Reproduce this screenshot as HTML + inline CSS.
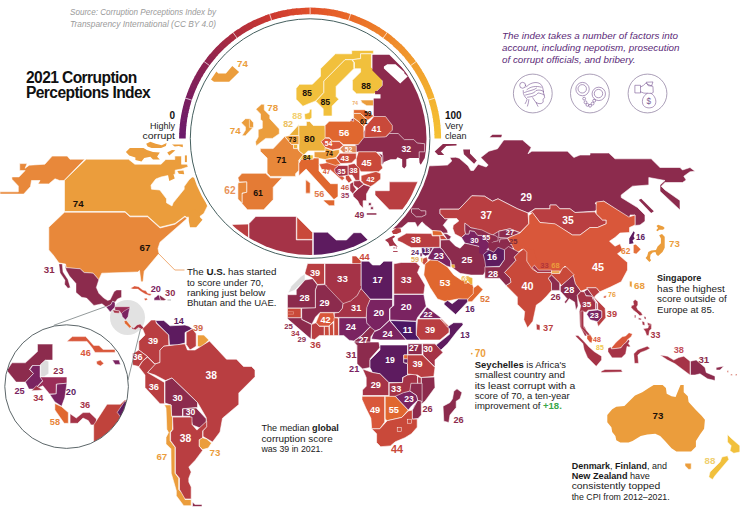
<!DOCTYPE html>
<html><head><meta charset="utf-8"><title>2021 Corruption Perceptions Index</title>
<style>
html,body{margin:0;padding:0;background:#fff;}
body{width:740px;height:523px;overflow:hidden;font-family:"Liberation Sans",sans-serif;}
svg{display:block;}
svg text{font-family:"Liberation Sans",sans-serif;}
</style></head><body>
<svg width="740" height="523" viewBox="0 0 740 523">
<defs>
<clipPath id="ceu"><circle cx="310.1" cy="138.6" r="116.4"/></clipPath>
<clipPath id="cin"><circle cx="66.6" cy="386.6" r="61.5"/></clipPath>
</defs>
<rect width="740" height="523" fill="#fff"/>
<g id="world">
<polygon points="86.2,159.2 128.5,159.2 134.8,164.2 161.0,164.2 165.8,159.5 174.8,159.5 174.8,156.0 181.5,156.0 181.5,164.2 187.0,164.2 188.2,166.8 181.5,169.0 175.2,170.2 175.2,174.2 166.5,175.8 161.0,177.0 155.8,179.0 151.0,185.2 151.5,189.2 159.8,190.0 166.5,198.8 166.5,202.8 172.0,206.0 173.2,202.8 184.2,189.2 184.2,186.5 189.0,179.8 192.2,177.0 200.0,178.5 207.5,206.0 203.8,213.5 198.8,217.2 186.2,217.2 185.0,216.0 175.0,223.5 160.0,227.2 147.5,216.0 130.0,216.0 125.0,211.5 64.5,211.5 64.5,180.2" fill="#eb9d3c" stroke="#fff" stroke-width="0.6"/>
<polygon points="64.5,212.2 125.0,212.2 130.0,216.8 147.5,216.8 160.0,228.0 175.0,224.2 185.0,216.8 187.0,218.5 160.0,242.2 158.0,248.5 159.0,253.5 147.5,267.2 144.2,271.2 143.0,281.8 141.0,281.8 139.5,270.5 137.8,272.0 101.8,273.2 98.8,279.8 93.0,273.2 84.2,272.5 80.0,268.8 66.2,267.8 65.5,264.0 59.0,263.0 53.2,255.0 48.8,250.0 48.8,227.2" fill="#e8883a" stroke="#fff" stroke-width="0.6"/>
<polygon points="52.2,156.1 67.2,156.1 69.9,159.2 84.8,159.2 64.0,180.5 59.7,180.5 55.0,178.8 48.8,183.9 38.0,183.9 40.0,180.5 31.5,180.5 30.5,186.6 23.7,194.1 0.0,194.1 0.0,191.8 18.3,191.8 18.3,186.0 11.9,179.2 11.9,176.9 19.0,176.9 25.1,170.6 19.7,170.6 19.7,163.6 27.1,163.6 25.1,168.3 29.2,165.2 44.8,164.2" fill="#e8883a" stroke="#fff" stroke-width="0.6"/>
<polygon points="188.8,213.5 193.8,208.5 198.8,212.2 200.0,217.2 202.5,219.8 196.2,227.2 190.0,227.2 188.8,221.0" fill="#eb9d3c"/>
<polygon points="125.9,152.0 129.9,147.9 143.5,147.9 146.9,149.9 153.0,152.0 159.8,152.6 157.1,156.7 159.8,159.4 153.0,159.4 150.3,156.7 144.2,158.1 141.5,161.5 135.4,160.1 135.4,157.4 129.2,155.4" fill="#eb9d3c"/>
<polygon points="146.2,143.8 150.3,141.8 155.7,143.8 161.8,145.2 166.6,143.1 165.9,145.9 161.1,147.9 151.6,147.9 147.6,146.5" fill="#eb9d3c"/>
<polygon points="167.2,152.6 172.0,149.9 175.4,150.2 169.3,155.4" fill="#eb9d3c"/>
<polygon points="172.0,144.5 182.8,144.5 182.8,147.2 178.8,145.9 174.7,146.5" fill="#eb9d3c"/>
<polygon points="184.9,155.4 186.9,155.4 186.9,162.1 184.9,162.1" fill="#eb9d3c"/>
<polygon points="167.9,174.3 173.3,173.7 174.7,178.4 169.3,181.1" fill="#eb9d3c"/>
<polygon points="177.4,171.0 183.5,170.5 184.2,174.3 178.8,173.7" fill="#eb9d3c"/>
<circle cx="127.5" cy="317.5" r="17.5" fill="#e2e2e2"/>
<polygon points="58.9,263.9 62.2,263.9 63.0,272.1 67.9,279.4 70.3,287.5 67.9,288.3 64.6,284.3 65.0,280.2 60.1,272.9" fill="#8c2b4d" stroke="#fff" stroke-width="0.4"/>
<polygon points="64.6,264.4 66.3,267.7 80.1,268.8 84.1,272.6 93.1,273.2 98.8,279.7 96.3,287.5 98.8,293.2 103.7,298.1 107.7,300.5 110.2,299.7 114.2,291.6 116.7,290.0 121.5,290.0 121.5,297.3 117.5,298.9 115.0,302.2 112.6,301.3 111.0,304.6 106.1,307.0 102.0,303.8 93.9,305.4 86.6,298.1 81.7,297.3 76.0,292.4 76.0,283.5 69.5,276.1 66.3,270.4" fill="#8c2b4d" stroke="#fff" stroke-width="0.4"/>
<polygon points="106.1,307.0 111.0,304.6 112.6,301.3 115.0,302.5 115.0,307.0 112.6,309.5 110.2,311.9" fill="#7a2361" stroke="#fff" stroke-width="0.4"/>
<polygon points="114.7,306.7 130.0,306.7 129.3,310.6 124.5,311.6 124.5,314.8 121.5,313.9 119.6,311.1 115.0,310.3" fill="#9a2d58" stroke="#fff" stroke-width="0.4"/>
<polygon points="112.6,310.0 115.0,310.3 119.6,311.1 119.1,313.2 114.2,312.9" fill="#a53347" stroke="#fff" stroke-width="0.4"/>
<polygon points="124.0,311.1 129.7,307.8 128.0,316.8 125.6,320.0 122.4,316.8 121.5,313.5" fill="#7a2361" stroke="#fff" stroke-width="0.4"/>
<polygon points="124.0,320.9 126.4,320.4 131.3,326.5 129.7,328.2 124.8,323.3" fill="#e0672f" stroke="#fff" stroke-width="0.4"/>
<polygon points="131.3,326.5 133.7,328.2 137.0,324.9 140.2,324.1 143.5,327.4 144.3,329.8 141.1,329.0 138.6,327.4 135.4,329.8 132.1,329.0" fill="#a53347" stroke="#fff" stroke-width="0.4"/>
<polygon points="130.5,288.3 134.6,285.9 138.6,286.7 142.7,290.0 145.9,290.8 147.6,293.2 151.6,294.0 150.0,295.7 145.1,294.0 141.1,291.6 137.8,289.1 132.9,289.1" fill="#d9573a" stroke="#fff" stroke-width="0.4"/>
<polygon points="144.0,298.6 146.7,298.1 147.6,299.7 145.1,300.5" fill="#d9573a" stroke="#fff" stroke-width="0.4"/>
<polygon points="154.1,298.1 156.5,296.5 158.1,294.8 159.3,295.7 160.6,300.2 154.1,300.2" fill="#7a2361" stroke="#fff" stroke-width="0.4"/>
<polygon points="159.3,295.7 160.6,295.7 163.8,298.1 166.3,299.7 163.8,300.5 160.6,300.2" fill="#8c2b4d" stroke="#fff" stroke-width="0.4"/>
<rect x="167.5" y="299" width="3.5" height="2" fill="#dcdcdc"/>
<polygon points="142.5,328.8 151.2,320.0 156.2,320.0 156.2,323.0 168.8,335.0 168.8,345.5 163.8,346.2 160.0,350.0 160.0,362.5 155.0,364.0 147.5,356.5 138.8,350.0 138.8,341.2 145.0,335.0" fill="#b93e41" stroke="#fff" stroke-width="0.6"/>
<polygon points="155.5,320.5 163.8,320.5 170.0,325.8 185.0,325.0 188.8,326.2 192.5,328.8 185.0,332.5 185.0,343.0 177.5,345.0 169.5,345.0 168.8,335.0 156.8,323.0" fill="#5d1b5f" stroke="#fff" stroke-width="0.6"/>
<polygon points="186.2,332.5 192.5,328.8 196.2,333.8 196.2,346.2 190.0,350.0 186.2,344.5" fill="#b93e41" stroke="#fff" stroke-width="0.6"/>
<polygon points="197.5,335.0 203.8,335.0 208.8,340.0 201.2,347.5 197.5,346.2" fill="#eb9d3c" stroke="#fff" stroke-width="0.6"/>
<polygon points="160.0,350.0 163.8,346.2 185.0,343.8 187.5,350.0 195.0,350.0 209.5,341.0 226.5,359.2 236.5,359.2 243.5,366.5 251.5,366.5 255.0,370.0 255.0,376.8 238.8,393.0 238.8,404.5 222.5,418.2 220.0,432.0 212.5,442.0 203.0,436.5 203.0,430.8 206.2,427.0 206.2,417.5 197.5,402.5 172.0,378.0 165.5,380.5 155.0,375.0 147.5,372.5 155.0,364.0 160.0,362.5" fill="#b93e41" stroke="#fff" stroke-width="0.6"/>
<polygon points="132.5,353.8 138.8,350.0 147.5,356.5 142.5,361.2 138.8,366.5 132.5,365.0" fill="#b93e41" stroke="#fff" stroke-width="0.6"/>
<polygon points="142.5,361.2 147.5,357.0 155.0,364.5 147.5,372.5 164.5,382.5 164.5,403.8 160.0,403.8 145.0,387.5 145.0,375.0 138.8,367.0" fill="#b93e41" stroke="#fff" stroke-width="0.6"/>
<polygon points="165.0,381.2 172.0,378.0 197.5,402.5 197.5,407.5 182.5,408.8 182.5,416.2 171.2,416.2 171.2,405.0 165.0,403.0" fill="#8c2b4d" stroke="#fff" stroke-width="0.6"/>
<polygon points="183.0,408.8 196.2,408.0 206.2,418.8 206.2,423.0 200.0,428.0 192.5,425.0 190.0,416.2 183.0,416.2" fill="#8c2b4d" stroke="#fff" stroke-width="0.6"/>
<polygon points="164.4,404.9 170.9,404.9 171.7,416.3 172.5,417.1 172.5,429.3 170.1,432.5 170.1,440.7 175.0,447.2 175.0,473.2 178.7,478.2 178.7,489.4 185.0,495.8 185.0,499.5 191.2,499.5 191.2,505.7 183.7,505.7 176.3,495.8 176.3,490.7 171.2,473.2 170.9,448.8 166.0,443.9 166.0,437.4 168.5,432.5 166.8,429.3 166.0,408.1" fill="#eb9d3c" stroke="#fff" stroke-width="0.6"/>
<polygon points="172.5,417.1 192.0,417.1 192.0,424.4 196.9,430.1 206.7,421.1 206.7,426.8 202.6,430.9 202.6,438.2 199.3,439.8 199.3,446.3 202.6,450.4 195.3,460.2 188.8,467.0 191.2,472.0 188.8,478.2 188.8,482.0 191.2,487.0 191.2,499.0 185.0,499.0 179.5,489.4 179.5,478.2 175.4,473.2 175.4,447.2 170.6,440.7 170.6,432.5 173.0,429.3" fill="#b93e41" stroke="#fff" stroke-width="0.6"/>
<polygon points="199.3,439.8 202.6,437.7 206.7,439.0 211.5,443.1 208.3,448.0 202.6,449.6 199.3,446.3" fill="#eb9d3c" stroke="#fff" stroke-width="0.6"/>
<polygon points="192.5,502.0 195.0,504.4 202.0,504.4 202.0,506.5 192.5,506.5" fill="#8c2b4d" stroke="#fff" stroke-width="0.6"/>
<text x="78.2" y="207.0" fill="#1a1008" font-size="9.72" font-weight="bold" text-anchor="middle">74</text>
<text x="145.0" y="251.2" fill="#1a1008" font-size="9.72" font-weight="bold" text-anchor="middle">67</text>
<text x="49.2" y="272.7" fill="#8c2b4d" font-size="9.72" font-weight="bold" text-anchor="middle">31</text>
<text x="155.8" y="292.1" fill="#7a2361" font-size="9.18" font-weight="bold" text-anchor="middle">20</text>
<text x="170.2" y="295.8" fill="#8c2b4d" font-size="9.18" font-weight="bold" text-anchor="middle">30</text>
<text x="178.8" y="323.8" fill="#5d1b5f" font-size="9.18" font-weight="bold" text-anchor="middle">14</text>
<text x="198.0" y="331.3" fill="#d06848" font-size="9.18" font-weight="bold" text-anchor="middle">39</text>
<text x="153.0" y="344.1" fill="#fff" font-size="9.18" font-weight="bold" text-anchor="middle">39</text>
<text x="137.5" y="360.1" fill="#fff" font-size="9.18" font-weight="bold" text-anchor="middle">36</text>
<text x="211.2" y="378.7" fill="#fff" font-size="10.26" font-weight="bold" text-anchor="middle">38</text>
<text x="153.8" y="389.6" fill="#fff" font-size="9.18" font-weight="bold" text-anchor="middle">36</text>
<text x="177.5" y="401.3" fill="#fff" font-size="9.18" font-weight="bold" text-anchor="middle">30</text>
<text x="190.5" y="415.1" fill="#fff" font-size="8.64" font-weight="bold" text-anchor="middle">30</text>
<text x="185.5" y="442.2" fill="#fff" font-size="10.26" font-weight="bold" text-anchor="middle">38</text>
<text x="161.8" y="459.5" fill="#eb9d3c" font-size="9.72" font-weight="bold" text-anchor="middle">67</text>
<text x="215.0" y="456.2" fill="#eb9d3c" font-size="9.72" font-weight="bold" text-anchor="middle">73</text>
<polygon points="305.0,272.5 307.5,263.5 324.5,263.5 324.5,284.0 317.5,284.5 312.5,278.0 305.0,274.2" fill="#b93e41" stroke="#fff" stroke-width="0.6"/>
<polygon points="291.2,286.2 301.2,276.2 305.0,273.8 305.0,280.0 295.0,290.0 288.0,293.0" fill="#dcdcdc" stroke="#fff" stroke-width="0.6"/>
<polygon points="325.0,263.5 352.0,263.5 352.0,256.5 353.8,256.0 361.2,263.5 361.2,289.0 356.8,290.0 355.0,299.2 343.8,304.0 325.0,284.5" fill="#a53347" stroke="#fff" stroke-width="0.6"/>
<polygon points="352.0,256.0 356.2,256.0 361.2,261.2 361.2,263.5 352.0,263.5" fill="#c9493a" stroke="#fff" stroke-width="0.6"/>
<polygon points="361.2,261.2 368.8,261.2 372.5,265.0 380.0,265.0 383.8,261.2 392.5,261.2 392.5,299.0 370.0,299.0 361.2,289.0" fill="#5d1b5f" stroke="#fff" stroke-width="0.6"/>
<polygon points="393.8,263.8 401.2,262.5 416.2,262.5 420.0,266.5 417.5,272.5 425.0,285.0 423.8,294.0 393.8,294.0" fill="#a53347" stroke="#fff" stroke-width="0.6"/>
<polygon points="370.0,299.5 392.5,299.5 392.5,306.2 389.5,308.8 389.5,320.0 380.0,329.0 373.8,331.5 366.2,322.5 366.2,307.5" fill="#7a2361" stroke="#fff" stroke-width="0.6"/>
<polygon points="393.8,294.5 423.8,294.5 426.2,306.2 417.5,317.5 416.2,321.2 390.0,320.0 390.0,308.8 393.8,305.5" fill="#7a2361" stroke="#fff" stroke-width="0.6"/>
<polygon points="419.5,317.0 427.0,307.0 442.0,318.5 419.5,318.5" fill="#7a2361" stroke="#fff" stroke-width="0.6"/>
<polygon points="417.5,319.0 442.0,319.0 449.0,326.2 449.0,332.5 440.0,340.0 420.0,340.0 416.2,335.0" fill="#b93e41" stroke="#fff" stroke-width="0.6"/>
<polygon points="390.0,320.5 416.2,321.5 416.2,335.0 420.0,340.0 406.2,340.0 398.8,331.2" fill="#4c1664" stroke="#fff" stroke-width="0.6"/>
<polygon points="373.8,332.0 380.0,329.2 389.5,320.5 398.8,331.2 406.2,340.0 380.0,340.0 371.2,339.0" fill="#7a2361" stroke="#fff" stroke-width="0.6"/>
<polygon points="447.5,326.8 453.6,322.7 462.4,322.7 463.1,324.8 457.0,331.6 447.5,343.8 439.3,351.6 435.5,356.0 432.6,356.0 436.0,345.1 449.5,334.3 449.5,328.8" fill="#5d1b5f" stroke="#fff" stroke-width="0.6"/>
<polygon points="440.0,318.7 448.2,325.5 447.5,327.1 442.1,321.0" fill="#c9493a" stroke="#fff" stroke-width="0.6"/>
<polygon points="320.7,285.9 361.1,285.9 360.3,290.0 357.3,295.4 350.6,300.9 343.1,303.6 324.8,290.0" fill="#a53347"/>
<polygon points="287.5,294.7 296.3,294.7 296.3,290.0 305.0,280.0 312.6,278.7 317.4,285.0 315.3,290.0 315.3,307.9 287.5,307.9" fill="#8c2b4d" stroke="#fff" stroke-width="0.5"/>
<polygon points="315.5,290.0 317.4,285.0 325.0,284.6 343.1,303.6 342.4,308.3 339.0,312.4 320.0,312.4 315.5,317.1 311.9,324.2 301.7,319.3 301.7,308.3 315.5,307.9" fill="#8c2b4d" stroke="#fff" stroke-width="0.5"/>
<polygon points="343.1,303.6 350.6,300.9 357.3,295.4 360.1,290.0 361.4,288.9 370.2,299.2 366.8,307.6 366.2,317.4 334.3,317.4 334.3,313.1 339.0,312.4 342.4,308.3" fill="#a53347" stroke="#fff" stroke-width="0.5"/>
<polygon points="320.0,312.8 333.6,312.8 334.3,317.4 337.7,317.8 332.2,322.6 328.8,326.0 319.3,326.0 316.0,322.6" fill="#d9573a" stroke="#fff" stroke-width="0.5"/>
<polygon points="287.5,308.3 301.0,308.3 301.0,317.8 287.5,317.8" fill="#c9493a" stroke="#fff" stroke-width="0.5"/>
<polygon points="287.5,317.8 301.7,317.8 301.7,319.6 311.5,324.6 310.9,339.1 287.5,318.8" fill="#8c2b4d" stroke="#fff" stroke-width="0.5"/>
<polygon points="311.5,324.6 316.0,322.8 319.3,326.4 324.1,326.4 324.1,335.5 319.3,335.5 314.6,339.5 311.5,338.8" fill="#b93e41" stroke="#fff" stroke-width="0.5"/>
<polygon points="324.5,326.4 328.8,326.4 329.1,335.5 324.5,335.5" fill="#c9493a" stroke="#fff" stroke-width="0.5"/>
<polygon points="329.5,325.5 333.2,322.6 333.6,335.5 329.5,335.5" fill="#c9493a" stroke="#fff" stroke-width="0.5"/>
<polygon points="334.0,317.8 338.3,318.2 338.6,335.5 334.0,335.5" fill="#c9493a" stroke="#fff" stroke-width="0.5"/>
<polygon points="339.0,317.8 366.2,317.8 366.8,323.2 370.2,326.6 361.4,335.5 353.9,340.9 349.2,340.2 343.8,335.5 339.0,335.5" fill="#7a2361" stroke="#fff" stroke-width="0.5"/>
<polygon points="353.9,341.3 361.4,335.9 370.2,326.9 375.0,330.7 370.9,336.8 370.2,344.5 357.3,345.0 357.3,343.6" fill="#8c2b4d" stroke="#fff" stroke-width="0.5"/>
<polygon points="356.7,345.6 366.8,345.0 366.8,353.8 364.8,353.8 364.8,361.9 357.3,361.9" fill="#a53347" stroke="#fff" stroke-width="0.5"/>
<polygon points="357.6,345.9 361.4,345.9 361.4,349.2 357.6,349.2" fill="#5d1b5f" stroke="#fff" stroke-width="0.5"/>
<path d="M287.5,311.7 h6 v2.5 h-6" stroke="#f0b0a0" stroke-width="0.5" fill="none"/>
<polygon points="353.8,342.0 378.8,342.0 380.0,347.5 370.0,358.8 370.0,367.5 362.5,369.0 357.0,363.8 357.0,345.5" fill="#8c2b4d" stroke="#fff" stroke-width="0.6"/>
<polygon points="380.0,345.0 407.5,345.0 407.5,355.0 403.8,355.0 403.8,362.5 407.5,363.8 407.5,375.0 402.5,377.5 402.5,382.5 388.8,382.5 380.0,373.8 372.5,372.5 370.0,367.5 370.0,360.0 380.0,350.0" fill="#5d1b5f" stroke="#fff" stroke-width="0.6"/>
<polygon points="362.5,369.0 372.5,372.5 380.0,373.8 388.8,382.5 388.8,395.5 362.5,395.5 362.5,390.0 366.2,386.2 366.2,377.5" fill="#a53347" stroke="#fff" stroke-width="0.6"/>
<polygon points="389.2,383.0 402.5,382.5 403.0,377.5 407.5,375.0 415.0,373.8 417.5,376.2 417.5,385.0 412.5,386.2 412.5,390.5 405.0,393.0 400.0,396.5 389.2,396.5" fill="#a53347" stroke="#fff" stroke-width="0.6"/>
<polygon points="407.5,355.0 422.5,355.0 435.0,367.5 433.8,376.5 421.2,377.5 417.5,375.0 407.5,374.0 407.5,363.8 403.8,362.5 403.8,355.0" fill="#b93e41" stroke="#fff" stroke-width="0.6"/>
<polygon points="422.5,343.8 435.0,343.8 443.0,352.5 435.0,360.0 435.0,367.0 423.0,355.0" fill="#a53347" stroke="#fff" stroke-width="0.6"/>
<polygon points="408.0,343.8 422.0,343.8 422.0,354.5 408.0,354.5" fill="#8c2b4d" stroke="#fff" stroke-width="0.6"/>
<polygon points="421.2,377.5 434.5,377.0 435.0,387.5 425.0,401.2 420.0,405.0 420.0,415.0 413.8,417.5 413.8,406.2 418.8,400.0 421.2,392.5" fill="#8c2b4d" stroke="#fff" stroke-width="0.6"/>
<polygon points="417.5,376.5 421.2,377.8 421.2,392.5 418.0,393.8" fill="#a53347" stroke="#fff" stroke-width="0.6"/>
<polygon points="453.8,391.2 457.0,388.8 462.0,392.5 460.0,398.8 456.2,401.2 456.2,407.5 450.0,415.0 448.8,422.5 443.8,421.2 443.0,406.2 450.0,402.5 452.5,398.8" fill="#8c2b4d" stroke="#fff" stroke-width="0.6"/>
<polygon points="362.0,396.3 384.7,396.3 384.7,422.0 379.8,428.8 371.7,428.8 370.9,418.2 366.0,408.5 362.0,399.5" fill="#d9573a" stroke="#fff" stroke-width="0.6"/>
<polygon points="385.2,396.3 395.3,396.3 408.3,410.1 401.8,417.4 387.2,420.7 385.2,419.0" fill="#e0672f" stroke="#fff" stroke-width="0.6"/>
<polygon points="371.7,428.8 379.8,428.8 387.2,420.7 401.8,417.4 408.3,410.9 412.4,410.1 412.4,419.0 417.2,419.0 417.2,427.2 411.5,433.7 405.0,437.7 395.3,441.8 390.4,445.9 380.7,446.7 376.6,442.6 376.6,433.7" fill="#c9493a" stroke="#fff" stroke-width="0.6"/>
<polygon points="410.9,383.3 422.1,383.3 422.1,402.0 417.7,400.3 416.4,395.4 409.9,391.1" fill="#8c2b4d" stroke="#fff" stroke-width="0.6"/>
<polygon points="395.3,396.3 403.4,392.7 409.9,391.1 416.4,395.4 417.7,400.3 411.5,406.0 408.3,410.1" fill="#7a2361" stroke="#fff" stroke-width="0.6"/>
<polygon points="412.4,410.1 417.7,400.3 421.3,401.1 421.3,415.0 418.0,418.5 412.4,419.0" fill="#8c2b4d" stroke="#fff" stroke-width="0.6"/>
<g stroke="#fff" stroke-width="0.5" fill="none"><rect x="397.2" y="427.3" width="4" height="4"/><rect x="407.5" y="419.2" width="4" height="4"/></g>
<polygon points="403.8,355.0 407.5,355.0 407.5,358.8 403.8,358.8" fill="#e0672f" stroke="#fff" stroke-width="0.4"/>
<polygon points="403.8,359.0 407.5,359.0 407.5,363.0 403.8,362.5" fill="#5d1b5f" stroke="#fff" stroke-width="0.4"/>
<text x="315.0" y="275.8" fill="#fff" font-size="9.18" font-weight="bold" text-anchor="middle">39</text>
<text x="342.5" y="282.2" fill="#fff" font-size="9.72" font-weight="bold" text-anchor="middle">33</text>
<text x="377.5" y="282.6" fill="#fff" font-size="9.18" font-weight="bold" text-anchor="middle">17</text>
<text x="406.2" y="282.7" fill="#fff" font-size="9.72" font-weight="bold" text-anchor="middle">33</text>
<text x="304.5" y="301.3" fill="#fff" font-size="9.18" font-weight="bold" text-anchor="middle">28</text>
<text x="324.5" y="305.8" fill="#fff" font-size="9.18" font-weight="bold" text-anchor="middle">29</text>
<text x="356.2" y="310.8" fill="#fff" font-size="9.18" font-weight="bold" text-anchor="middle">31</text>
<text x="378.8" y="315.5" fill="#fff" font-size="9.72" font-weight="bold" text-anchor="middle">20</text>
<text x="406.2" y="309.7" fill="#fff" font-size="9.72" font-weight="bold" text-anchor="middle">20</text>
<text x="428.0" y="316.7" fill="#fff" font-size="8.1" font-weight="bold" text-anchor="middle">22</text>
<text x="325.5" y="322.8" fill="#fff" font-size="9.18" font-weight="bold" text-anchor="middle">42</text>
<text x="350.8" y="330.1" fill="#fff" font-size="9.18" font-weight="bold" text-anchor="middle">24</text>
<text x="387.5" y="337.1" fill="#fff" font-size="9.18" font-weight="bold" text-anchor="middle">24</text>
<text x="407.5" y="332.8" fill="#fff" font-size="9.18" font-weight="bold" text-anchor="middle">11</text>
<text x="430.0" y="332.8" fill="#fff" font-size="9.18" font-weight="bold" text-anchor="middle">39</text>
<text x="363.5" y="342.9" fill="#fff" font-size="8.64" font-weight="bold" text-anchor="middle">27</text>
<text x="413.8" y="351.1" fill="#fff" font-size="8.64" font-weight="bold" text-anchor="middle">27</text>
<text x="428.0" y="351.6" fill="#fff" font-size="8.64" font-weight="bold" text-anchor="middle">30</text>
<text x="390.0" y="362.6" fill="#fff" font-size="8.64" font-weight="bold" text-anchor="middle">19</text>
<text x="417.5" y="367.1" fill="#fff" font-size="9.18" font-weight="bold" text-anchor="middle">39</text>
<text x="364.5" y="259.8" fill="#c9493a" font-size="9.18" font-weight="bold" text-anchor="middle">44</text>
<text x="288.5" y="329.3" fill="#8c2b4d" font-size="7.78" font-weight="bold" text-anchor="middle">25</text>
<text x="295.2" y="335.8" fill="#a53347" font-size="7.78" font-weight="bold" text-anchor="middle">34</text>
<text x="301.8" y="342.1" fill="#8c2b4d" font-size="7.78" font-weight="bold" text-anchor="middle">29</text>
<text x="315.5" y="348.2" fill="#b93e41" font-size="9.72" font-weight="bold" text-anchor="middle">36</text>
<text x="351.2" y="358.2" fill="#8c2b4d" font-size="9.72" font-weight="bold" text-anchor="middle">31</text>
<text x="465.0" y="338.0" fill="#5d1b5f" font-size="8.42" font-weight="bold" text-anchor="middle">13</text>
<text x="354.2" y="372.3" fill="#7a2361" font-size="9.18" font-weight="bold" text-anchor="middle">21</text>
<text x="375.8" y="387.8" fill="#fff" font-size="9.18" font-weight="bold" text-anchor="middle">29</text>
<text x="396.2" y="392.3" fill="#fff" font-size="9.18" font-weight="bold" text-anchor="middle">33</text>
<text x="409.0" y="402.1" fill="#fff" font-size="8.64" font-weight="bold" text-anchor="middle">23</text>
<text x="375.0" y="412.6" fill="#fff" font-size="9.18" font-weight="bold" text-anchor="middle">49</text>
<text x="393.8" y="412.6" fill="#fff" font-size="9.18" font-weight="bold" text-anchor="middle">55</text>
<text x="427.5" y="412.3" fill="#8c2b4d" font-size="9.18" font-weight="bold" text-anchor="middle">26</text>
<text x="458.5" y="423.1" fill="#8c2b4d" font-size="9.18" font-weight="bold" text-anchor="middle">26</text>
<text x="397.0" y="452.9" fill="#c9493a" font-size="10.8" font-weight="bold" text-anchor="middle">44</text>
<polygon points="464.4,222.5 518.0,227.4 519.7,233.9 513.2,238.8 513.2,248.5 485.5,246.9 464.4,233.9" fill="#8c2b4d"/>
<polygon points="385.0,147.5 385.0,165.8 432.0,165.8 447.5,165.0 451.8,161.0 449.8,157.5 455.8,157.2 459.2,158.2 468.0,165.8 470.8,170.5 473.5,170.5 478.2,164.2 486.2,167.0 488.2,165.0 480.8,157.5 488.8,151.2 497.5,148.8 503.8,140.0 522.5,140.0 531.2,147.5 528.0,153.8 531.8,151.2 567.5,151.2 573.8,157.5 573.8,157.5 580.0,155.0 590.0,155.0 590.0,153.0 608.8,153.0 615.0,158.8 651.2,158.8 660.0,167.5 680.0,167.5 682.5,170.0 690.0,167.5 695.0,171.2 690.0,171.8 683.8,176.2 686.2,180.0 682.5,182.5 665.0,182.5 661.2,186.2 665.0,190.0 680.0,200.5 680.0,210.0 660.0,191.2 660.0,185.0 665.0,180.5 648.8,177.5 648.8,185.0 632.5,186.2 621.2,195.0 621.2,197.5 637.5,207.5 645.0,215.0 645.0,221.2 640.0,225.0 635.0,225.5 635.0,215.0 630.0,215.0 630.0,220.0 617.5,210.5 603.8,201.2 595.0,203.0 598.8,207.5 595.0,211.2 575.0,212.5 570.0,208.8 560.0,208.8 556.2,205.0 550.0,205.0 550.0,208.8 535.0,208.8 528.0,213.0 517.5,208.8 498.0,198.8 492.5,201.2 484.5,196.2 471.8,195.8 459.0,209.2 440.0,209.2 440.0,213.5 444.8,218.8 448.5,218.5 443.2,225.2 447.2,230.0 448.0,233.0 443.2,233.2 441.0,231.2 432.2,230.5 425.5,225.2 422.0,221.8 417.5,227.2 415.2,222.5 408.0,222.5 401.8,227.8 385.0,230.0" fill="#8c2b4d" stroke="#fff" stroke-width="0.6"/>
<polygon points="434.7,151.5 442.9,144.0 456.5,144.0 456.5,145.6 446.3,146.0 440.9,151.5 444.2,155.1 438.1,155.1" fill="#8c2b4d"/>
<polygon points="463.2,149.4 470.0,149.4 470.0,153.5 476.8,160.5 474.1,163.7 463.9,154.2" fill="#8c2b4d"/>
<polygon points="489.7,137.2 492.4,134.8 501.9,134.8 501.2,137.2" fill="#8c2b4d"/>
<polygon points="638.8,200.0 641.2,198.8 653.8,211.2 651.2,213.0" fill="#8c2b4d"/>
<polygon points="440.0,209.2 459.0,209.2 471.8,195.8 484.5,196.2 492.5,201.2 498.0,198.8 517.5,208.8 528.0,213.0 528.8,223.8 520.0,232.5 510.0,228.8 498.8,231.2 492.5,235.0 483.8,232.5 475.0,228.5 471.0,228.0 464.9,223.2 464.9,230.0 465.5,234.0 461.5,237.5 454.8,234.0 452.8,228.5 453.2,225.2 458.8,221.0 456.8,218.5 448.5,218.5 444.8,218.8 440.0,213.5" fill="#b93e41" stroke="#fff" stroke-width="0.6"/>
<polygon points="411.5,208.8 419.0,208.8 421.0,210.8 425.8,210.8 425.8,214.8 421.5,216.8 416.2,216.8 411.5,212.5" fill="#8c2b4d" stroke="#fff" stroke-width="0.6"/>
<polygon points="529.5,213.0 535.0,208.8 550.0,208.8 550.0,205.0 556.2,205.0 560.0,208.8 570.0,208.8 575.0,212.5 595.0,211.8 596.2,213.8 602.5,220.0 606.2,220.0 606.2,223.8 597.5,227.5 590.0,227.5 580.0,235.0 572.5,235.0 555.0,224.2 540.0,222.5 532.5,213.0" fill="#b93e41" stroke="#fff" stroke-width="0.6"/>
<polygon points="397.7,238.3 406.5,233.3 431.4,233.6 432.3,236.0 439.8,236.0 439.8,247.3 411.3,247.6 407.2,245.5 402.5,242.8 397.7,240.8" fill="#b93e41" stroke="#fff" stroke-width="0.5"/>
<polygon points="432.3,230.6 441.1,231.3 443.2,235.4 432.7,235.4" fill="#e0672f" stroke="#fff" stroke-width="0.5"/>
<polygon points="439.8,235.6 443.2,235.4 447.2,239.4 440.5,239.7" fill="#c9493a" stroke="#fff" stroke-width="0.5"/>
<polygon points="443.2,233.3 447.2,234.0 451.3,236.7 449.3,239.4 447.2,239.4" fill="#8c2b4d" stroke="#fff" stroke-width="0.5"/>
<polygon points="461.5,237.4 465.6,234.0 468.9,234.0 469.6,230.6 474.4,231.3 477.8,235.4 481.8,235.4 491.6,243.8 489.3,247.8 483.2,251.9 479.1,246.5 471.0,244.6 464.9,243.1" fill="#7a2361" stroke="#fff" stroke-width="0.5"/>
<polygon points="464.9,223.1 471.0,227.9 475.1,228.6 481.8,229.9 490.0,234.0 495.0,235.4 498.1,237.4 498.1,240.8 493.4,241.9 490.0,244.2 481.8,235.4 477.8,235.4 474.4,231.3 469.6,230.6 468.9,234.0 465.6,234.0 464.9,229.9" fill="#8c2b4d" stroke="#fff" stroke-width="0.5"/>
<polygon points="421.5,247.8 433.0,247.8 428.9,254.6 425.5,256.0 422.1,253.9" fill="#5d1b5f" stroke="#fff" stroke-width="0.5"/>
<polygon points="433.7,247.8 439.8,247.6 442.5,249.6 450.6,261.1 450.6,267.2 446.6,265.9 439.8,261.8 431.6,260.5 427.6,258.4 429.6,254.6" fill="#7a2361" stroke="#fff" stroke-width="0.5"/>
<polygon points="440.5,240.1 449.3,239.7 455.4,245.9 460.1,248.2 464.9,243.2 471.0,244.6 479.1,246.5 482.5,250.5 487.5,255.2 487.5,268.2 483.2,275.0 471.0,275.0 460.1,273.3 452.0,267.6 450.9,261.1 442.5,249.6 440.5,247.6" fill="#8c2b4d" stroke="#fff" stroke-width="0.5"/>
<polygon points="422.8,258.4 426.9,257.1 427.8,260.9 424.2,265.2 422.1,262.5" fill="#c9493a" stroke="#fff" stroke-width="0.5"/>
<polygon points="420.1,253.0 422.1,253.0 422.1,256.5 420.1,256.5" fill="#7a2361" stroke="#fff" stroke-width="0.5"/>
<polygon points="420.8,257.7 422.7,257.7 422.7,262.2 421.1,262.2" fill="#eb9d3c" stroke="#fff" stroke-width="0.5"/>
<polygon points="498.8,231.2 510.0,228.8 520.0,233.0 507.5,238.0 498.8,237.5" fill="#8c2b4d" stroke="#fff" stroke-width="0.6"/>
<polygon points="500.0,239.0 507.5,238.5 511.2,244.0 504.5,247.0 499.0,244.5" fill="#8c2b4d" stroke="#fff" stroke-width="0.6"/>
<polygon points="425.0,263.8 430.0,260.0 437.5,260.5 447.5,267.0 453.8,275.0 461.2,280.0 472.5,284.2 475.0,292.5 467.5,300.0 457.5,299.0 445.0,301.5 437.5,299.0 430.0,287.5 423.8,275.0" fill="#e0672f" stroke="#fff" stroke-width="0.6"/>
<polygon points="528.8,215.5 532.5,212.5 540.0,222.5 555.0,223.8 572.5,235.0 580.0,235.0 590.0,227.5 597.5,227.5 606.2,223.8 606.2,220.0 602.5,220.0 596.2,213.8 596.2,202.0 603.8,201.2 628.8,217.0 635.0,215.0 635.0,225.0 629.5,227.5 629.5,232.5 620.0,233.0 615.0,237.5 609.5,241.2 615.0,246.2 620.0,243.8 622.5,250.0 617.5,253.8 627.5,262.5 627.5,270.0 621.2,281.8 610.5,287.0 599.8,291.8 596.2,287.8 586.8,287.8 587.5,288.8 580.8,291.2 575.2,283.8 573.2,275.0 565.0,266.0 560.0,271.8 550.0,271.8 536.2,270.0 532.5,266.2 522.5,248.8 516.2,253.8 511.2,244.0 507.5,238.0 520.0,233.0 528.8,223.8" fill="#d9573a" stroke="#fff" stroke-width="0.6"/>
<polygon points="536.2,323.8 540.0,325.0 540.0,330.2 536.5,329.8" fill="#b93e41" stroke="#fff" stroke-width="0.6"/>
<polygon points="451.2,264.5 454.5,264.5 455.0,268.0 451.8,267.5" fill="#ecb03a" stroke="#fff" stroke-width="0.3"/>
<polygon points="464.5,280.5 467.0,280.5 467.0,283.5 464.5,283.5" fill="#eb9d3c" stroke="#fff" stroke-width="0.3"/>
<polygon points="467.0,276.2 472.5,278.0 472.5,284.5 470.5,284.5 467.0,280.0" fill="#ecb03a" stroke="#fff" stroke-width="0.3"/>
<polygon points="521.5,248.1 533.7,249.8 540.2,271.2 532.0,270.1 526.8,261.1 525.5,252.2" fill="#d9573a"/>
<polygon points="488.1,242.4 510.1,242.4 510.1,247.3 504.4,250.4 497.9,248.1 493.8,253.0 488.9,250.4" fill="#8c2b4d"/>
<polygon points="479.2,245.7 488.9,250.4 483.3,255.3 479.2,253.0" fill="#7a2361"/>
<polygon points="519.0,252.2 523.6,248.9 526.8,252.2 526.8,261.1 532.0,268.9 537.7,272.5 551.5,272.5 551.5,273.3 559.7,273.3 562.9,267.6 566.2,266.8 574.3,275.0 561.3,285.5 559.7,283.1 551.5,275.0 548.3,278.2 551.5,283.1 551.5,290.4 546.7,296.1 541.0,301.8 536.3,305.0 532.8,321.3 527.5,327.8 523.9,319.7 524.7,311.5 517.4,304.2 517.4,296.9 506.0,285.5 510.9,282.3 510.1,278.2 504.4,272.5 515.8,260.3 514.1,257.1" fill="#c9493a" stroke="#fff" stroke-width="0.5"/>
<polygon points="532.0,267.6 534.5,265.2 538.5,270.1 551.5,270.1 551.5,272.5 537.7,272.5" fill="#a53347" stroke="#fff" stroke-width="0.5"/>
<polygon points="551.5,270.9 559.7,270.9 559.7,273.3 551.5,273.3" fill="#eb9d3c" stroke="#fff" stroke-width="0.5"/>
<polygon points="548.3,278.2 551.5,275.0 559.7,283.1 559.7,290.4 551.5,290.4 551.5,283.1" fill="#8c2b4d" stroke="#fff" stroke-width="0.5"/>
<polygon points="484.9,266.8 499.5,266.8 504.4,259.5 504.4,249.8 508.5,246.5 519.0,252.2 514.1,257.1 515.8,260.3 504.4,272.5 510.1,278.2 510.9,282.3 506.0,285.5 499.5,278.2 484.9,278.2" fill="#8c2b4d" stroke="#fff" stroke-width="0.5"/>
<polygon points="483.3,254.6 488.9,249.8 493.8,252.2 497.9,247.3 504.4,249.8 504.4,259.5 499.5,266.3 485.7,266.8 484.9,261.1" fill="#5d1b5f" stroke="#fff" stroke-width="0.5"/>
<polygon points="444.1,303.1 447.5,300.4 452.2,303.7 458.3,299.0 467.8,299.0 467.8,301.7 455.6,314.6 444.1,304.4" fill="#5d1b5f" stroke="#fff" stroke-width="0.6"/>
<polygon points="467.8,299.0 473.3,293.6 473.3,288.1 478.0,284.7 483.0,289.5 471.9,301.7 467.8,301.7" fill="#e0672f" stroke="#fff" stroke-width="0.6"/>
<polygon points="629.5,281.2 632.0,281.2 632.0,287.5 629.5,286.2" fill="#eb9d3c" stroke="#fff" stroke-width="0.5"/>
<polygon points="656.5,225.9 658.1,224.8 663.1,226.4 664.7,228.1 663.1,229.7 659.2,229.7 657.6,231.3 656.2,230.3 658.1,228.1" fill="#eb9d3c"/>
<polygon points="659.2,235.2 662.0,234.1 664.7,236.8 664.7,247.7 662.5,252.1 658.1,255.9 656.5,254.8 655.4,252.1 652.7,252.6 650.5,254.8 650.0,258.6 651.1,260.2 649.4,261.9 645.6,258.1 647.2,255.9 648.3,252.1 651.1,250.4 656.0,249.9 657.6,246.6 660.9,243.3 660.9,238.4" fill="#eb9d3c"/>
<polygon points="629.3,238.4 630.9,235.7 633.6,231.3 634.7,232.4 633.6,236.3 634.7,238.4 632.5,240.6 633.6,243.3 629.3,243.9 629.3,241.2" fill="#5d1b5f"/>
<polygon points="633.6,245.0 635.8,244.4 640.7,249.3 636.3,253.7 633.6,253.1" fill="#e4703a"/>
<polygon points="560.4,286.5 573.2,275.2 575.3,283.7 580.7,291.2 577.3,295.3 578.0,306.1 576.0,310.2 574.6,302.1 569.2,298.7 565.8,303.4 564.4,302.1 567.1,298.7 560.4,291.2" fill="#8c2b4d" stroke="#fff" stroke-width="0.5"/>
<polygon points="577.3,295.5 580.7,291.5 584.8,291.9 586.1,296.0 591.6,296.0 595.6,302.1 595.6,309.5 588.2,310.2 586.1,312.2 582.1,311.6 583.4,325.1 586.1,329.2 586.8,336.0 584.8,336.0 580.0,326.5 579.3,311.6 580.7,306.1 578.7,300.7" fill="#a53347" stroke="#fff" stroke-width="0.5"/>
<polygon points="584.1,291.5 587.5,289.2 593.6,297.3 592.2,298.7 597.0,303.4 597.0,309.5 595.9,309.5 595.9,302.1 591.6,296.0 586.1,295.5" fill="#8c2b4d" stroke="#fff" stroke-width="0.5"/>
<polygon points="586.8,287.8 596.3,287.8 599.7,291.9 595.6,295.5 594.3,297.3 605.1,308.2 605.8,317.7 598.3,326.5 597.0,322.4 601.7,317.0 601.7,310.9 597.7,309.5 597.7,303.1 593.6,297.3 587.8,289.2" fill="#b93e41" stroke="#fff" stroke-width="0.5"/>
<polygon points="586.8,314.3 588.8,310.9 597.7,309.9 601.7,311.3 601.7,317.0 597.7,321.7 590.2,319.7" fill="#7a2361" stroke="#fff" stroke-width="0.5"/>
<polygon points="603.8,296.0 606.5,295.5 605.8,298.0 603.5,298.0" fill="#d9573a" stroke="#fff" stroke-width="0.5"/>
<polygon points="633.1,301.5 635.1,299.5 637.8,301.5 637.8,304.9 636.5,307.0 637.8,309.7 641.2,312.4 642.6,315.1 639.9,315.8 637.2,313.1 633.8,310.4 631.1,307.6 631.7,305.6 633.8,304.9" fill="#a53347" stroke="#fff" stroke-width="0.4"/>
<polygon points="634.5,315.1 635.8,315.1 635.8,317.8 634.5,317.8" fill="#a53347" stroke="#fff" stroke-width="0.4"/>
<polygon points="638.5,317.8 641.2,318.5 641.2,320.1 638.5,319.6" fill="#a53347" stroke="#fff" stroke-width="0.4"/>
<polygon points="643.9,316.5 646.0,317.1 646.0,319.3 644.4,318.8" fill="#a53347" stroke="#fff" stroke-width="0.4"/>
<polygon points="641.9,321.2 644.4,321.9 644.9,325.3 642.6,325.0" fill="#a53347" stroke="#fff" stroke-width="0.4"/>
<polygon points="647.3,322.6 651.4,323.9 651.1,326.4 648.0,325.5" fill="#a53347" stroke="#fff" stroke-width="0.4"/>
<polygon points="643.3,328.7 648.0,328.0 648.7,325.3 651.4,324.6 651.4,328.7 649.4,330.7 648.7,335.5 646.7,335.5 645.3,331.4" fill="#a53347" stroke="#fff" stroke-width="0.4"/>
<polygon points="580.9,311.0 583.6,311.0 583.6,327.3 589.0,333.4 590.4,335.5 588.3,336.1 580.9,328.0" fill="#a53347" stroke="#fff" stroke-width="0.4"/>
<polygon points="587.0,335.5 590.4,334.8 592.4,338.2 591.7,342.9 589.7,342.2 587.0,338.8" fill="#d9573a" stroke="#fff" stroke-width="0.4"/>
<polygon points="575.4,335.5 578.1,335.5 583.6,340.9 589.0,347.0 594.4,351.7 601.5,356.2 601.5,360.0 596.2,366.3 587.5,357.4 584.2,349.7 582.9,343.6 576.1,336.8" fill="#a53347" stroke="#fff" stroke-width="0.4"/>
<polygon points="612.1,347.0 616.1,342.2 622.2,336.8 625.6,336.1 629.0,332.7 632.4,334.1 631.1,336.8 627.7,339.5 626.3,342.2 623.6,344.3 620.9,347.7 610.7,349.0" fill="#d9573a" stroke="#fff" stroke-width="0.4"/>
<polygon points="608.0,348.3 610.7,347.0 611.4,349.0 620.9,347.9 623.6,344.3 626.3,342.2 628.3,339.5 629.7,340.9 628.3,343.6 630.4,346.3 629.0,347.0 627.0,346.3 625.6,353.8 621.6,357.8 612.1,357.8 608.0,351.7" fill="#a53347" stroke="#fff" stroke-width="0.4"/>
<polygon points="633.8,353.8 637.8,349.7 647.3,346.3 650.1,348.3 646.0,350.4 640.6,352.4 637.8,355.1 638.5,363.3 634.5,363.3" fill="#a53347" stroke="#fff" stroke-width="0.4"/>
<polygon points="601.2,371.2 605.0,369.5 621.2,369.5 622.5,372.0 601.2,372.5" fill="#a53347" stroke="#fff" stroke-width="0.5"/>
<polygon points="660.0,355.0 667.5,356.2 673.8,360.0 678.8,357.5 683.8,356.2 690.0,361.2 690.0,375.0 680.0,367.5 675.0,363.8 667.5,360.0" fill="#a53347" stroke="#fff" stroke-width="0.5"/>
<polygon points="690.5,361.2 696.2,360.0 705.0,367.5 706.2,372.5 715.0,376.2 715.0,380.5 707.5,378.8 700.0,373.8 695.0,375.0 690.5,375.0" fill="#8c2b4d" stroke="#fff" stroke-width="0.5"/>
<polygon points="716.2,367.5 723.8,366.2 720.0,370.0 716.2,370.0" fill="#8c2b4d" stroke="#fff" stroke-width="0.5"/>
<polygon points="727.0,370.8 728.5,370.8 728.5,372.2 727.0,372.2" fill="#c9493a" stroke="#fff" stroke-width="0.5"/>
<polygon points="730.8,374.0 732.2,374.0 732.2,375.5 730.8,375.5" fill="#c9493a" stroke="#fff" stroke-width="0.5"/>
<polygon points="735.5,374.0 737.0,374.0 737.0,375.5 735.5,375.5" fill="#c9493a" stroke="#fff" stroke-width="0.5"/>
<polygon points="685.0,463.2 691.2,463.2 691.2,469.0 688.8,469.5 685.0,465.8" fill="#eb9d3c" stroke="#fff" stroke-width="0.5"/>
<polygon points="727.5,434.5 731.2,438.2 739.8,445.8 739.8,452.0 733.8,453.2 730.0,450.8 731.2,445.8 727.5,442.0" fill="#f1c03c" stroke="#fff" stroke-width="0.5"/>
<polygon points="722.0,457.0 727.5,455.8 728.8,459.5 715.0,475.8 712.5,479.5 708.8,477.0 710.0,472.0 720.0,462.0" fill="#f1c03c" stroke="#fff" stroke-width="0.5"/>
<polygon points="607.3,415.0 612.2,409.3 616.3,406.8 624.4,406.0 635.0,395.4 642.3,392.2 648.8,388.1 653.7,384.9 662.6,384.9 665.9,388.1 666.7,393.8 671.5,396.3 675.6,397.1 677.2,393.0 680.5,384.9 683.7,384.9 683.7,392.2 687.8,396.3 688.6,402.0 695.9,410.1 701.6,415.8 704.9,419.8 704.1,428.8 700.0,434.5 695.9,441.0 695.9,446.7 691.1,451.5 676.4,451.5 671.5,448.3 665.0,441.0 660.2,436.1 655.3,433.7 647.2,434.5 640.7,436.1 632.5,441.0 628.5,442.6 620.3,442.6 616.3,440.2 615.4,436.1 612.2,432.0 611.4,427.2 607.3,422.3" fill="#eb9d3c"/>
<text x="526.2" y="200.7" fill="#fff" font-size="10.26" font-weight="bold" text-anchor="middle">29</text>
<text x="486.2" y="218.7" fill="#fff" font-size="10.26" font-weight="bold" text-anchor="middle">37</text>
<text x="568.0" y="223.7" fill="#fff" font-size="10.26" font-weight="bold" text-anchor="middle">35</text>
<text x="415.8" y="243.3" fill="#fff" font-size="9.18" font-weight="bold" text-anchor="middle">38</text>
<text x="426.8" y="253.3" fill="#fff" font-size="6.48" font-weight="bold" text-anchor="middle">13</text>
<text x="438.8" y="258.8" fill="#fff" font-size="9.18" font-weight="bold" text-anchor="middle">23</text>
<text x="467.0" y="263.0" fill="#fff" font-size="9.72" font-weight="bold" text-anchor="middle">25</text>
<text x="474.5" y="242.7" fill="#fff" font-size="7.56" font-weight="bold" text-anchor="middle">30</text>
<text x="486.2" y="239.5" fill="#fff" font-size="7.02" font-weight="bold" text-anchor="middle">55</text>
<text x="510.0" y="234.7" fill="#fff" font-size="7.56" font-weight="bold" text-anchor="middle">27</text>
<text x="513.2" y="244.0" fill="#7a2a3a" font-size="7.56" font-weight="bold" text-anchor="middle">25</text>
<text x="492.0" y="260.3" fill="#fff" font-size="9.18" font-weight="bold" text-anchor="middle">16</text>
<text x="493.0" y="277.1" fill="#fff" font-size="9.18" font-weight="bold" text-anchor="middle">28</text>
<text x="445.0" y="286.0" fill="#fff" font-size="9.72" font-weight="bold" text-anchor="middle">53</text>
<text x="465.5" y="280.7" fill="#f0c060" font-size="7.56" font-weight="bold" text-anchor="middle">69</text>
<text x="527.5" y="290.1" fill="#fff" font-size="10.8" font-weight="bold" text-anchor="middle">40</text>
<text x="555.5" y="299.6" fill="#8c2b4d" font-size="9.18" font-weight="bold" text-anchor="middle">26</text>
<text x="544.5" y="268.2" fill="#b0343a" font-size="7.56" font-weight="bold" text-anchor="middle">33</text>
<text x="555.5" y="268.2" fill="#eb9d3c" font-size="7.56" font-weight="bold" text-anchor="middle">68</text>
<text x="415.0" y="255.4" fill="#5d1b5f" font-size="7.34" font-weight="bold" text-anchor="middle">24</text>
<text x="415.0" y="261.9" fill="#e8b060" font-size="7.34" font-weight="bold" text-anchor="middle">59</text>
<text x="485.0" y="302.2" fill="#e0783a" font-size="8.86" font-weight="bold" text-anchor="middle">52</text>
<text x="470.0" y="312.3" fill="#5d1b5f" font-size="8.42" font-weight="bold" text-anchor="middle">16</text>
<text x="548.2" y="331.3" fill="#b93e41" font-size="9.18" font-weight="bold" text-anchor="middle">37</text>
<text x="598.0" y="270.9" fill="#fff" font-size="10.8" font-weight="bold" text-anchor="middle">45</text>
<text x="640.5" y="240.0" fill="#5d1b5f" font-size="8.21" font-weight="bold" text-anchor="middle">16</text>
<text x="625.8" y="253.8" fill="#e8853a" font-size="8.42" font-weight="bold" text-anchor="middle">62</text>
<text x="674.5" y="246.5" fill="#eb9d3c" font-size="9.72" font-weight="bold" text-anchor="middle">73</text>
<text x="639.5" y="288.5" fill="#eb9d3c" font-size="9.72" font-weight="bold" text-anchor="middle">68</text>
<text x="612.0" y="296.5" fill="#eb9d3c" font-size="7.02" font-weight="bold" text-anchor="middle">76</text>
<text x="569.2" y="292.9" fill="#fff" font-size="9.18" font-weight="bold" text-anchor="middle">28</text>
<text x="586.8" y="307.0" fill="#fff" font-size="8.1" font-weight="bold" text-anchor="middle">35</text>
<text x="594.3" y="318.3" fill="#fff" font-size="8.1" font-weight="bold" text-anchor="middle">23</text>
<text x="611.9" y="316.5" fill="#b93e41" font-size="9.18" font-weight="bold" text-anchor="middle">39</text>
<text x="655.5" y="338.2" fill="#a53347" font-size="8.86" font-weight="bold" text-anchor="middle">33</text>
<text x="678.8" y="353.3" fill="#c4505a" font-size="9.18" font-weight="bold" text-anchor="middle">38</text>
<text x="703.8" y="363.0" fill="#8c2b4d" font-size="9.72" font-weight="bold" text-anchor="middle">31</text>
<text x="597.0" y="342.0" fill="#d9573a" font-size="7.02" font-weight="bold" text-anchor="middle">48</text>
<text x="600.0" y="349.5" fill="#f0c850" font-size="7.02" font-weight="bold" text-anchor="middle">85</text>
<text x="658.0" y="419.2" fill="#1a1008" font-size="9.72" font-weight="bold" text-anchor="middle">73</text>
<text x="710.0" y="463.5" fill="#f0d070" font-size="9.72" font-weight="bold" text-anchor="middle">88</text>
<polygon points="391.7,231.3 396.5,227.9 400.6,228.6 401.2,232.0 396.5,234.0 393.1,234.0" fill="#b93e41"/>
<polygon points="385.0,240.1 389.7,237.4 393.8,235.4 395.1,236.7 392.4,238.7 393.8,242.1 397.8,246.9 393.8,245.5 389.7,246.2 388.3,242.8" fill="#a53347"/>
<polygon points="393.1,251.0 397.6,251.0 397.6,251.9 393.1,251.9" fill="#a53347"/>
<polygon points="393.5,247.3 394.6,247.3 394.6,248.4 393.5,248.4" fill="#a53347"/>
<polygon points="395.7,247.6 396.8,247.6 396.8,248.6 395.7,248.6" fill="#a53347"/>
<polygon points="372.7,236.0 377.5,233.3 377.8,233.9 373.0,236.6" fill="#8c2b4d"/>
</g>
<g id="europe">
<circle cx="310.1" cy="138.6" r="122.6" fill="#fff"/>
<g clip-path="url(#ceu)">
<polygon points="296.1,88.4 299.5,84.3 312.4,84.3 320.5,76.2 320.5,68.7 335.5,53.8 351.7,53.8 351.7,50.4 373.4,50.4 373.4,53.8 360.6,53.8 360.6,58.6 351.7,59.7 345.0,59.7 323.9,81.0 323.9,92.5 315.8,100.9 306.3,104.7 302.9,106.3 296.1,99.3" fill="#f1c03c" stroke="#fff" stroke-width="0.6"/>
<polygon points="345.0,59.7 351.7,59.7 353.8,62.6 353.8,68.7 336.1,86.4 336.1,96.6 338.8,99.3 332.1,106.1 332.1,116.0 323.2,116.0 323.2,108.8 315.8,101.2 323.9,92.5 323.9,81.0" fill="#f1c03c" stroke="#fff" stroke-width="0.6"/>
<polygon points="360.6,53.8 371.4,53.8 371.4,67.4 382.3,78.2 382.3,85.7 374.1,93.8 356.5,93.8 352.4,89.8 352.4,80.3 360.6,72.1 360.6,68.7 354.5,68.7 354.5,62.6 352.4,59.7 360.6,58.6" fill="#f1c03c" stroke="#fff" stroke-width="0.6"/>
<polygon points="360.6,100.0 373.4,100.0 373.4,105.7 366.7,105.7 361.9,102.7" fill="#eb9d3c" stroke="#fff" stroke-width="0.6"/>
<polygon points="372.4,54.7 389.3,54.7 445.0,110.4 472.1,110.4 472.1,159.3 426.0,159.3 424.4,158.6 420.8,164.7 419.5,162.7 419.2,157.9 409.7,157.9 406.3,159.3 406.3,166.1 404.3,168.5 402.2,166.7 402.2,159.3 397.5,157.2 396.1,159.3 390.7,159.3 383.9,162.0 382.6,164.7 382.6,151.8 355.4,151.8 355.4,137.6 363.6,132.1 373.7,118.6 373.7,98.4 380.5,98.4 380.5,94.3 375.1,94.3 375.1,90.9 377.1,90.9 382.6,85.5 382.6,80.7 372.4,70.5" fill="#8c2b4d"/>
<polygon points="383.9,66.5 387.3,64.2 395.5,64.2 404.3,71.9 404.3,73.2 407.7,76.6 400.2,83.4 383.9,68.5" fill="#ffffff"/>
<polyline fill="none" stroke="#fff" stroke-width="0.6" points="386.0,136.9 389.3,133.5 398.2,133.5 404.3,139.6 413.8,139.6 417.2,143.0 424.6,143.7 424.6,151.8 419.2,151.8 419.2,157.9"/>
<polygon points="211.0,79.4 216.4,71.5 218.3,73.6 225.9,73.6 232.3,66.1 239.1,71.9 229.2,81.7 214.0,81.7" fill="#eb9d3c"/>
<polygon points="255.9,109.2 261.4,104.2 264.3,104.2 264.3,109.9 269.8,115.4 269.8,118.7 279.3,128.9 279.3,133.7 272.5,138.4 265.7,138.4 256.2,145.9 255.5,141.8 258.2,137.1 258.2,129.6 262.3,128.2 262.3,120.8 260.5,119.4 260.5,114.0" fill="#eb9d3c" stroke="#fff" stroke-width="0.6"/>
<polygon points="241.3,122.8 245.4,118.7 250.1,118.7 253.5,122.8 253.5,126.9 245.4,135.7 242.0,135.7 245.4,130.3 245.4,126.9" fill="#eb9d3c" stroke="#fff" stroke-width="0.6"/>
<polygon points="304.4,114.0 309.1,112.6 309.8,109.2 311.8,109.2 311.8,117.4 309.8,119.4 305.1,119.4" fill="#f1c03c" stroke="#fff" stroke-width="0.6"/>
<polygon points="288.8,135.7 298.9,124.6 298.9,135.7" fill="#ecb03a" stroke="#fff" stroke-width="0.6"/>
<polygon points="298.9,125.5 306.4,125.5 306.4,121.5 309.8,121.5 313.2,125.5 325.0,125.5 326.1,138.4 322.0,142.5 326.1,147.2 326.1,150.9 308.0,150.9 303.7,155.0 298.9,150.9" fill="#ecb03a" stroke="#fff" stroke-width="0.6"/>
<polygon points="284.7,136.4 288.8,135.7 298.9,135.7 298.9,144.5 297.6,144.5 293.5,144.5 291.5,144.5 287.4,139.8" fill="#eb9d3c" stroke="#fff" stroke-width="0.6"/>
<polygon points="293.5,144.5 297.6,144.5 297.6,148.6 293.5,148.6" fill="#ecb03a" stroke="#fff" stroke-width="0.6"/>
<polygon points="260.3,148.6 273.2,148.6 284.7,136.4 287.4,139.8 291.5,144.5 293.5,144.5 293.5,148.6 297.6,148.6 298.9,150.9 303.7,155.0 298.9,160.1 298.9,170.3 295.6,173.7 295.6,176.4 270.5,176.4 267.1,173.0 267.1,158.1 260.3,151.3" fill="#e8883a" stroke="#fff" stroke-width="0.6"/>
<polygon points="303.0,155.0 313.2,155.0 313.2,160.4 298.9,160.4" fill="#f1c03c" stroke="#fff" stroke-width="0.6"/>
<path d="M249.4,119.4 v8 h3.5" stroke="#fff" stroke-width="0.5" fill="none"/>
<polygon points="237.9,177.8 242.0,173.3 265.7,173.3 270.5,177.8 282.0,177.8 273.2,187.3 273.2,199.5 263.7,209.7 247.4,209.7 242.0,203.6 242.0,193.4 246.7,192.1 246.7,181.9 239.2,181.9" fill="#e47b35" stroke="#fff" stroke-width="0.6"/>
<polygon points="238.6,182.6 246.7,181.9 246.7,192.3 242.0,193.1 242.0,203.2 237.9,199.1 237.9,183.9" fill="#e8883a" stroke="#fff" stroke-width="0.6"/>
<polygon points="306.1,179.6 309.8,182.6 309.8,193.4 306.1,193.4" fill="#e0672f" stroke="#fff" stroke-width="0.6"/>
<polygon points="325.1,125.4 329.2,121.3 350.2,121.3 353.6,117.9 358.3,121.3 363.8,126.7 363.8,137.6 358.3,144.6 343.4,144.6 339.3,141.2 332.6,141.2 329.2,137.8 325.1,137.8" fill="#e0672f" stroke="#fff" stroke-width="0.6"/>
<polygon points="353.6,113.4 360.4,113.4 367.8,120.2 363.8,126.7 358.3,121.3 353.6,117.9" fill="#e47b35" stroke="#fff" stroke-width="0.6"/>
<polygon points="353.6,109.7 364.5,109.7 373.9,115.9 367.8,120.2 360.4,113.4 353.6,113.4" fill="#e0672f" stroke="#fff" stroke-width="0.6"/>
<polygon points="350.2,120.2 353.6,117.9 353.6,121.3" fill="#8c2b4d" stroke="#fff" stroke-width="0.6"/>
<polygon points="365.1,126.7 373.9,116.5 385.5,116.5 392.3,125.4 392.3,130.1 385.5,136.9 364.5,137.6" fill="#c9493a" stroke="#fff" stroke-width="0.6"/>
<polygon points="321.0,141.6 325.1,138.2 329.2,138.2 332.6,141.6 339.3,141.6 343.4,145.3 339.3,148.7 332.6,150.0 325.1,147.3" fill="#d9573a" stroke="#fff" stroke-width="0.6"/>
<polygon points="343.4,145.7 356.3,145.7 356.3,152.8 343.4,152.8 340.0,149.2" fill="#e08a5a" stroke="#fff" stroke-width="0.6"/>
<polygon points="314.2,151.8 325.1,151.8 325.1,147.7 332.6,150.5 339.3,149.5 339.3,152.8 336.0,157.5 325.1,159.5 314.2,157.5" fill="#eb9d3c" stroke="#fff" stroke-width="0.6"/>
<polygon points="336.6,157.5 340.0,153.2 356.3,153.2 356.3,158.2 351.6,162.9 340.7,163.6 336.6,158.9" fill="#c9493a" stroke="#fff" stroke-width="0.6"/>
<polygon points="358.3,151.8 376.0,151.8 381.4,157.2 381.4,164.7 382.8,168.1 378.7,171.8 361.1,171.8 356.3,166.3 356.3,158.6" fill="#c9493a" stroke="#fff" stroke-width="0.6"/>
<polygon points="378.0,152.5 382.8,155.2 382.8,163.6 381.4,164.7 381.4,157.2" fill="#8c2b4d" stroke="#fff" stroke-width="0.6"/>
<polygon points="325.1,159.5 336.0,158.2 340.7,164.0 334.6,168.4 327.1,165.0" fill="#e0672f" stroke="#fff" stroke-width="0.6"/>
<polygon points="298.9,163.5 301.1,159.2 313.2,159.2 313.2,158.0 319.0,158.0 319.0,170.9 330.5,183.7 338.0,183.7 338.0,196.6 333.9,199.6 306.1,169.0 298.9,175.7" fill="#e0672f" stroke="#fff" stroke-width="0.6"/>
<polygon points="323.7,200.0 334.6,200.0 334.6,205.7 329.2,205.7 323.7,201.0" fill="#e0672f" stroke="#fff" stroke-width="0.6"/>
<polygon points="305.7,179.7 310.2,183.1 310.2,193.2 305.7,193.2" fill="#e0672f" stroke="#fff" stroke-width="0.6"/>
<polygon points="319.0,164.1 327.1,162.7 335.3,165.4 340.7,164.1 335.3,168.8 344.8,178.3 342.1,180.4 329.9,169.5 321.7,169.5" fill="#d9573a" stroke="#fff" stroke-width="0.6"/>
<polygon points="334.6,168.8 338.7,165.4 348.2,165.4 348.2,175.6 339.3,176.3 335.0,172.2" fill="#a53347" stroke="#fff" stroke-width="0.6"/>
<polygon points="348.2,164.7 354.3,163.4 359.7,168.8 359.7,180.4 355.6,180.4 352.2,174.9 348.2,174.9" fill="#b93e41" stroke="#fff" stroke-width="0.6"/>
<polygon points="345.5,175.6 348.8,175.2 352.2,180.4 348.8,183.1 345.5,179.0" fill="#c9493a" stroke="#fff" stroke-width="0.6"/>
<polygon points="361.1,175.6 376.0,171.5 380.7,173.6 380.7,179.0 373.9,184.4 370.6,186.5 363.8,183.7 361.1,180.4" fill="#c9493a" stroke="#fff" stroke-width="0.6"/>
<polygon points="353.6,181.0 359.7,180.6 363.8,184.2 358.3,188.5 353.6,185.1" fill="#a53347" stroke="#fff" stroke-width="0.6"/>
<polygon points="349.9,183.7 353.6,181.7 353.6,185.8 356.3,189.2 352.9,193.9 349.9,190.5" fill="#a53347" stroke="#fff" stroke-width="0.6"/>
<polygon points="352.9,193.9 358.3,188.8 363.8,184.4 370.6,186.7 366.5,193.9 366.5,200.7 363.1,200.7 363.1,208.2 359.7,204.8 357.7,200.7 353.2,196.4" fill="#9a2e48" stroke="#fff" stroke-width="0.6"/>
<polygon points="366.5,212.9 376.7,212.9 376.7,215.0 366.5,215.0" fill="#8c2b4d" stroke="#fff" stroke-width="0.6"/>
<polygon points="368.5,202.7 371.2,202.7 371.2,205.5 368.5,205.5" fill="#8c2b4d" stroke="#fff" stroke-width="0.6"/>
<polygon points="370.6,206.8 373.3,206.8 373.3,209.5 370.6,209.5" fill="#8c2b4d" stroke="#fff" stroke-width="0.6"/>
<polygon points="375.0,190.7 389.3,190.7 389.3,181.8 417.8,181.8 405.6,209.7 389.3,209.7 375.0,195.0" fill="#b93e41" stroke="#fff" stroke-width="0.6"/>
<polygon points="232.3,224.5 248.5,224.1 248.5,258.5 232.3,258.5" fill="#b93e41" stroke="#fff" stroke-width="0.6"/>
<polygon points="249.0,223.6 255.8,216.4 296.3,216.4 296.3,239.9 312.6,239.9 312.6,258.5 249.0,258.5" fill="#a53347" stroke="#fff" stroke-width="0.6"/>
<polygon points="296.8,216.7 312.6,232.6 312.6,239.4 296.8,239.4" fill="#c9493a" stroke="#fff" stroke-width="0.6"/>
<polygon points="313.4,232.2 327.6,232.2 336.2,240.0 346.5,240.0 353.7,232.7 361.0,232.7 368.0,240.0 368.0,258.5 313.4,258.5" fill="#5d1b5f" stroke="#fff" stroke-width="0.6"/>
</g>
<circle cx="310.1" cy="138.6" r="119.8" fill="none" stroke="#46605f" stroke-width="1"/>
<path d="M182.40,138.60 A127.7,127.7 0 0 1 182.50,133.48" stroke="#6c1b6b" stroke-width="6.6" fill="none"/>
<path d="M182.48,134.14 A127.7,127.7 0 0 1 182.76,129.03" stroke="#6e1c6a" stroke-width="6.6" fill="none"/>
<path d="M182.71,129.69 A127.7,127.7 0 0 1 183.17,124.59" stroke="#6f1c68" stroke-width="6.6" fill="none"/>
<path d="M183.10,125.25 A127.7,127.7 0 0 1 183.74,120.17" stroke="#711c67" stroke-width="6.6" fill="none"/>
<path d="M183.64,120.83 A127.7,127.7 0 0 1 184.46,115.77" stroke="#721c66" stroke-width="6.6" fill="none"/>
<path d="M184.34,116.43 A127.7,127.7 0 0 1 185.33,111.40" stroke="#741d64" stroke-width="6.6" fill="none"/>
<path d="M185.19,112.05 A127.7,127.7 0 0 1 186.36,107.06" stroke="#761d63" stroke-width="6.6" fill="none"/>
<path d="M186.19,107.71 A127.7,127.7 0 0 1 187.53,102.76" stroke="#781e61" stroke-width="6.6" fill="none"/>
<path d="M187.35,103.40 A127.7,127.7 0 0 1 188.86,98.50" stroke="#791e60" stroke-width="6.6" fill="none"/>
<path d="M188.65,99.14 A127.7,127.7 0 0 1 190.33,94.30" stroke="#7b1e5e" stroke-width="6.6" fill="none"/>
<path d="M190.10,94.92 A127.7,127.7 0 0 1 191.95,90.14" stroke="#7d1f5c" stroke-width="6.6" fill="none"/>
<path d="M191.70,90.76 A127.7,127.7 0 0 1 193.71,86.05" stroke="#801f5b" stroke-width="6.6" fill="none"/>
<path d="M193.44,86.66 A127.7,127.7 0 0 1 195.62,82.02" stroke="#822059" stroke-width="6.6" fill="none"/>
<path d="M195.32,82.62 A127.7,127.7 0 0 1 197.66,78.06" stroke="#842058" stroke-width="6.6" fill="none"/>
<path d="M197.35,78.65 A127.7,127.7 0 0 1 199.84,74.17" stroke="#862156" stroke-width="6.6" fill="none"/>
<path d="M199.51,74.75 A127.7,127.7 0 0 1 202.16,70.36" stroke="#882254" stroke-width="6.6" fill="none"/>
<path d="M201.80,70.93 A127.7,127.7 0 0 1 204.61,66.64" stroke="#8b2252" stroke-width="6.6" fill="none"/>
<path d="M204.23,67.19 A127.7,127.7 0 0 1 207.18,63.00" stroke="#8d2351" stroke-width="6.6" fill="none"/>
<path d="M206.79,63.54 A127.7,127.7 0 0 1 209.88,59.45" stroke="#90244f" stroke-width="6.6" fill="none"/>
<path d="M209.47,59.98 A127.7,127.7 0 0 1 212.71,56.00" stroke="#93244d" stroke-width="6.6" fill="none"/>
<path d="M212.28,56.52 A127.7,127.7 0 0 1 215.65,52.66" stroke="#96264b" stroke-width="6.6" fill="none"/>
<path d="M215.20,53.15 A127.7,127.7 0 0 1 218.71,49.41" stroke="#9a2649" stroke-width="6.6" fill="none"/>
<path d="M218.24,49.89 A127.7,127.7 0 0 1 221.87,46.28" stroke="#9d2847" stroke-width="6.6" fill="none"/>
<path d="M221.39,46.74 A127.7,127.7 0 0 1 225.15,43.25" stroke="#a02845" stroke-width="6.6" fill="none"/>
<path d="M224.65,43.70 A127.7,127.7 0 0 1 228.53,40.35" stroke="#a42a43" stroke-width="6.6" fill="none"/>
<path d="M228.02,40.78 A127.7,127.7 0 0 1 232.01,37.56" stroke="#a72a41" stroke-width="6.6" fill="none"/>
<path d="M231.48,37.97 A127.7,127.7 0 0 1 235.58,34.90" stroke="#aa2c3f" stroke-width="6.6" fill="none"/>
<path d="M235.04,35.29 A127.7,127.7 0 0 1 239.25,32.36" stroke="#ae2d3d" stroke-width="6.6" fill="none"/>
<path d="M238.69,32.73 A127.7,127.7 0 0 1 243.00,29.95" stroke="#b12e3c" stroke-width="6.6" fill="none"/>
<path d="M242.43,30.30 A127.7,127.7 0 0 1 246.83,27.68" stroke="#b52f3a" stroke-width="6.6" fill="none"/>
<path d="M246.25,28.01 A127.7,127.7 0 0 1 250.74,25.54" stroke="#b83139" stroke-width="6.6" fill="none"/>
<path d="M250.15,25.85 A127.7,127.7 0 0 1 254.72,23.53" stroke="#bc3237" stroke-width="6.6" fill="none"/>
<path d="M254.12,23.82 A127.7,127.7 0 0 1 258.77,21.67" stroke="#bf3335" stroke-width="6.6" fill="none"/>
<path d="M258.16,21.94 A127.7,127.7 0 0 1 262.88,19.95" stroke="#c23534" stroke-width="6.6" fill="none"/>
<path d="M262.26,20.20 A127.7,127.7 0 0 1 267.05,18.37" stroke="#c63632" stroke-width="6.6" fill="none"/>
<path d="M266.42,18.60 A127.7,127.7 0 0 1 271.27,16.95" stroke="#c93731" stroke-width="6.6" fill="none"/>
<path d="M270.64,17.15 A127.7,127.7 0 0 1 275.54,15.66" stroke="#cc3930" stroke-width="6.6" fill="none"/>
<path d="M274.90,15.85 A127.7,127.7 0 0 1 279.86,14.53" stroke="#ce3c2f" stroke-width="6.6" fill="none"/>
<path d="M279.21,14.69 A127.7,127.7 0 0 1 284.20,13.55" stroke="#d13f2e" stroke-width="6.6" fill="none"/>
<path d="M283.55,13.69 A127.7,127.7 0 0 1 288.58,12.73" stroke="#d3412e" stroke-width="6.6" fill="none"/>
<path d="M287.93,12.84 A127.7,127.7 0 0 1 292.99,12.05" stroke="#d6442d" stroke-width="6.6" fill="none"/>
<path d="M292.33,12.14 A127.7,127.7 0 0 1 297.42,11.53" stroke="#d8472c" stroke-width="6.6" fill="none"/>
<path d="M296.75,11.60 A127.7,127.7 0 0 1 301.86,11.17" stroke="#da492c" stroke-width="6.6" fill="none"/>
<path d="M301.19,11.21 A127.7,127.7 0 0 1 306.31,10.96" stroke="#dc4c2b" stroke-width="6.6" fill="none"/>
<path d="M305.64,10.98 A127.7,127.7 0 0 1 310.77,10.90" stroke="#df4f2a" stroke-width="6.6" fill="none"/>
<path d="M310.10,10.90 A127.7,127.7 0 0 1 315.22,11.00" stroke="#e0512a" stroke-width="6.6" fill="none"/>
<path d="M314.56,10.98 A127.7,127.7 0 0 1 319.67,11.26" stroke="#e2542a" stroke-width="6.6" fill="none"/>
<path d="M319.01,11.21 A127.7,127.7 0 0 1 324.11,11.67" stroke="#e25729" stroke-width="6.6" fill="none"/>
<path d="M323.45,11.60 A127.7,127.7 0 0 1 328.53,12.24" stroke="#e45a29" stroke-width="6.6" fill="none"/>
<path d="M327.87,12.14 A127.7,127.7 0 0 1 332.93,12.96" stroke="#e45d29" stroke-width="6.6" fill="none"/>
<path d="M332.27,12.84 A127.7,127.7 0 0 1 337.30,13.83" stroke="#e65f29" stroke-width="6.6" fill="none"/>
<path d="M336.65,13.69 A127.7,127.7 0 0 1 341.64,14.86" stroke="#e66229" stroke-width="6.6" fill="none"/>
<path d="M340.99,14.69 A127.7,127.7 0 0 1 345.94,16.03" stroke="#e86528" stroke-width="6.6" fill="none"/>
<path d="M345.30,15.85 A127.7,127.7 0 0 1 350.20,17.36" stroke="#e86828" stroke-width="6.6" fill="none"/>
<path d="M349.56,17.15 A127.7,127.7 0 0 1 354.40,18.83" stroke="#e96a28" stroke-width="6.6" fill="none"/>
<path d="M353.78,18.60 A127.7,127.7 0 0 1 358.56,20.45" stroke="#ea6e28" stroke-width="6.6" fill="none"/>
<path d="M357.94,20.20 A127.7,127.7 0 0 1 362.65,22.21" stroke="#ea7029" stroke-width="6.6" fill="none"/>
<path d="M362.04,21.94 A127.7,127.7 0 0 1 366.68,24.12" stroke="#eb7429" stroke-width="6.6" fill="none"/>
<path d="M366.08,23.82 A127.7,127.7 0 0 1 370.64,26.16" stroke="#ec7729" stroke-width="6.6" fill="none"/>
<path d="M370.05,25.85 A127.7,127.7 0 0 1 374.53,28.34" stroke="#ec7a29" stroke-width="6.6" fill="none"/>
<path d="M373.95,28.01 A127.7,127.7 0 0 1 378.34,30.66" stroke="#ed7d29" stroke-width="6.6" fill="none"/>
<path d="M377.77,30.30 A127.7,127.7 0 0 1 382.06,33.11" stroke="#ed802a" stroke-width="6.6" fill="none"/>
<path d="M381.51,32.73 A127.7,127.7 0 0 1 385.70,35.68" stroke="#ee822a" stroke-width="6.6" fill="none"/>
<path d="M385.16,35.29 A127.7,127.7 0 0 1 389.25,38.38" stroke="#ee852a" stroke-width="6.6" fill="none"/>
<path d="M388.72,37.97 A127.7,127.7 0 0 1 392.70,41.21" stroke="#ee882a" stroke-width="6.6" fill="none"/>
<path d="M392.18,40.78 A127.7,127.7 0 0 1 396.04,44.15" stroke="#ef8b2b" stroke-width="6.6" fill="none"/>
<path d="M395.55,43.70 A127.7,127.7 0 0 1 399.29,47.21" stroke="#ef8e2b" stroke-width="6.6" fill="none"/>
<path d="M398.81,46.74 A127.7,127.7 0 0 1 402.42,50.37" stroke="#f0902c" stroke-width="6.6" fill="none"/>
<path d="M401.96,49.89 A127.7,127.7 0 0 1 405.45,53.65" stroke="#f0932c" stroke-width="6.6" fill="none"/>
<path d="M405.00,53.15 A127.7,127.7 0 0 1 408.35,57.03" stroke="#f0962c" stroke-width="6.6" fill="none"/>
<path d="M407.92,56.52 A127.7,127.7 0 0 1 411.14,60.51" stroke="#f0992c" stroke-width="6.6" fill="none"/>
<path d="M410.73,59.98 A127.7,127.7 0 0 1 413.80,64.08" stroke="#f19c2d" stroke-width="6.6" fill="none"/>
<path d="M413.41,63.54 A127.7,127.7 0 0 1 416.34,67.75" stroke="#f19e2d" stroke-width="6.6" fill="none"/>
<path d="M415.97,67.19 A127.7,127.7 0 0 1 418.75,71.50" stroke="#f1a02e" stroke-width="6.6" fill="none"/>
<path d="M418.40,70.93 A127.7,127.7 0 0 1 421.02,75.33" stroke="#f2a32e" stroke-width="6.6" fill="none"/>
<path d="M420.69,74.75 A127.7,127.7 0 0 1 423.16,79.24" stroke="#f2a52e" stroke-width="6.6" fill="none"/>
<path d="M422.85,78.65 A127.7,127.7 0 0 1 425.17,83.22" stroke="#f2a82e" stroke-width="6.6" fill="none"/>
<path d="M424.88,82.62 A127.7,127.7 0 0 1 427.03,87.27" stroke="#f2aa2f" stroke-width="6.6" fill="none"/>
<path d="M426.76,86.66 A127.7,127.7 0 0 1 428.75,91.38" stroke="#f2ac2f" stroke-width="6.6" fill="none"/>
<path d="M428.50,90.76 A127.7,127.7 0 0 1 430.33,95.55" stroke="#f3ae30" stroke-width="6.6" fill="none"/>
<path d="M430.10,94.92 A127.7,127.7 0 0 1 431.75,99.77" stroke="#f3b130" stroke-width="6.6" fill="none"/>
<path d="M431.55,99.14 A127.7,127.7 0 0 1 433.04,104.04" stroke="#f3b330" stroke-width="6.6" fill="none"/>
<path d="M432.85,103.40 A127.7,127.7 0 0 1 434.17,108.36" stroke="#f3b531" stroke-width="6.6" fill="none"/>
<path d="M434.01,107.71 A127.7,127.7 0 0 1 435.15,112.70" stroke="#f4b631" stroke-width="6.6" fill="none"/>
<path d="M435.01,112.05 A127.7,127.7 0 0 1 435.97,117.08" stroke="#f4b832" stroke-width="6.6" fill="none"/>
<path d="M435.86,116.43 A127.7,127.7 0 0 1 436.65,121.49" stroke="#f4ba32" stroke-width="6.6" fill="none"/>
<path d="M436.56,120.83 A127.7,127.7 0 0 1 437.17,125.92" stroke="#f4bc32" stroke-width="6.6" fill="none"/>
<path d="M437.10,125.25 A127.7,127.7 0 0 1 437.53,130.36" stroke="#f4be33" stroke-width="6.6" fill="none"/>
<path d="M437.49,129.69 A127.7,127.7 0 0 1 437.74,134.81" stroke="#f5bf33" stroke-width="6.6" fill="none"/>
<path d="M437.72,134.14 A127.7,127.7 0 0 1 437.80,138.60" stroke="#f5c134" stroke-width="6.6" fill="none"/>
<line x1="192.17" y1="100.28" x2="184.56" y2="97.81" stroke="#fff" stroke-width="0.7"/>
<line x1="209.78" y1="65.71" x2="203.31" y2="61.01" stroke="#fff" stroke-width="0.7"/>
<line x1="237.21" y1="38.28" x2="232.51" y2="31.81" stroke="#fff" stroke-width="0.7"/>
<line x1="271.78" y1="20.67" x2="269.31" y2="13.06" stroke="#fff" stroke-width="0.7"/>
<line x1="310.10" y1="14.60" x2="310.10" y2="6.60" stroke="#fff" stroke-width="0.7"/>
<line x1="348.42" y1="20.67" x2="350.89" y2="13.06" stroke="#fff" stroke-width="0.7"/>
<line x1="382.99" y1="38.28" x2="387.69" y2="31.81" stroke="#fff" stroke-width="0.7"/>
<line x1="410.42" y1="65.71" x2="416.89" y2="61.01" stroke="#fff" stroke-width="0.7"/>
<line x1="428.03" y1="100.28" x2="435.64" y2="97.81" stroke="#fff" stroke-width="0.7"/>
<text x="307.0" y="95.6" fill="#1a1008" font-size="8.74" font-weight="bold" text-anchor="middle">85</text>
<text x="325.3" y="104.7" fill="#1a1008" font-size="8.74" font-weight="bold" text-anchor="middle">85</text>
<text x="366.0" y="89.3" fill="#1a1008" font-size="8.74" font-weight="bold" text-anchor="middle">88</text>
<text x="355.1" y="104.9" fill="#eeb070" font-size="5.34" font-weight="bold" text-anchor="middle">74</text>
<text x="242.5" y="66.5" fill="#eb9d3c" font-size="9.75" font-weight="bold" text-anchor="middle">74</text>
<text x="272.8" y="111.0" fill="#eb9d3c" font-size="9.75" font-weight="bold" text-anchor="middle">78</text>
<text x="235.2" y="134.1" fill="#eb9d3c" font-size="9.75" font-weight="bold" text-anchor="middle">74</text>
<text x="297.3" y="118.6" fill="#f3d070" font-size="8.92" font-weight="bold" text-anchor="middle">88</text>
<text x="288.1" y="127.0" fill="#ecc060" font-size="8.92" font-weight="bold" text-anchor="middle">82</text>
<text x="292.4" y="142.3" fill="#1a1008" font-size="6.9" font-weight="bold" text-anchor="middle">73</text>
<text x="309.4" y="142.2" fill="#1a1008" font-size="9.66" font-weight="bold" text-anchor="middle">80</text>
<text x="281.3" y="163.2" fill="#1a1008" font-size="9.2" font-weight="bold" text-anchor="middle">71</text>
<text x="306.7" y="160.1" fill="#1a1008" font-size="6.62" font-weight="bold" text-anchor="middle">84</text>
<text x="258.0" y="196.3" fill="#1a1008" font-size="8.74" font-weight="bold" text-anchor="middle">61</text>
<text x="229.9" y="193.8" fill="#e8935a" font-size="10.12" font-weight="bold" text-anchor="middle">62</text>
<text x="319.3" y="196.9" fill="#e0784a" font-size="9.02" font-weight="bold" text-anchor="middle">56</text>
<text x="344.1" y="136.3" fill="#fff" font-size="9.66" font-weight="bold" text-anchor="middle">56</text>
<text x="367.8" y="116.3" fill="#1a1008" font-size="6.9" font-weight="bold" text-anchor="middle">59</text>
<text x="363.8" y="124.0" fill="#1a1008" font-size="6.9" font-weight="bold" text-anchor="middle">61</text>
<text x="376.4" y="131.5" fill="#fff" font-size="8.74" font-weight="bold" text-anchor="middle">41</text>
<text x="328.5" y="146.2" fill="#fff" font-size="6.9" font-weight="bold" text-anchor="middle">54</text>
<text x="348.6" y="152.0" fill="#fff" font-size="6.9" font-weight="bold" text-anchor="middle">52</text>
<text x="329.2" y="155.5" fill="#1a1008" font-size="6.44" font-weight="bold" text-anchor="middle">74</text>
<text x="344.8" y="161.1" fill="#fff" font-size="7.82" font-weight="bold" text-anchor="middle">43</text>
<text x="366.5" y="166.0" fill="#fff" font-size="9.2" font-weight="bold" text-anchor="middle">45</text>
<text x="341.4" y="173.9" fill="#fff" font-size="7.35" font-weight="bold" text-anchor="middle">35</text>
<text x="353.6" y="172.8" fill="#fff" font-size="7.35" font-weight="bold" text-anchor="middle">38</text>
<text x="326.5" y="174.2" fill="#d9603a" font-size="6.9" font-weight="bold" text-anchor="middle">47</text>
<text x="370.6" y="182.3" fill="#fff" font-size="7.35" font-weight="bold" text-anchor="middle">42</text>
<text x="345.0" y="189.5" fill="#c4553f" font-size="7.64" font-weight="bold" text-anchor="middle">46</text>
<text x="345.0" y="197.8" fill="#9a3a60" font-size="7.64" font-weight="bold" text-anchor="middle">35</text>
<text x="359.4" y="217.6" fill="#8c2b4d" font-size="8.55" font-weight="bold" text-anchor="middle">49</text>
<text x="406.3" y="152.2" fill="#fff" font-size="8.74" font-weight="bold" text-anchor="middle">32</text>
</g>
<g id="inset">
<g stroke="#4a5558" stroke-width="0.6" fill="none"><line x1="105.5" y1="306.6" x2="53.8" y2="325.3"/><line x1="140.5" y1="329" x2="128" y2="380"/></g>
<circle cx="66.6" cy="386.6" r="61.8" fill="#fff"/>
<g clip-path="url(#cin)">
<polygon points="7.5,369.5 12.0,362.8 25.4,362.8 37.5,351.6 37.5,344.1 52.7,344.1 52.7,360.1 45.5,360.1 40.1,365.5 32.1,365.5 29.4,369.5 33.5,373.5 25.4,382.1 16.1,382.1 7.5,371.4" fill="#8c2b4d" stroke="#fff" stroke-width="0.5"/>
<polygon points="25.4,382.1 33.5,373.5 30.0,369.5 32.7,365.5 40.1,365.5 40.1,376.7 42.8,380.5 34.8,389.1 28.9,389.1" fill="#7a2361" stroke="#fff" stroke-width="0.5"/>
<polygon points="40.7,364.2 45.5,360.1 48.7,361.5 48.7,373.5 44.2,376.7 40.7,376.7" fill="#dcdcdc" stroke="#fff" stroke-width="0.5"/>
<polygon points="40.1,377.0 66.9,377.0 66.9,383.2 56.2,384.2 56.2,393.9 49.5,393.9 42.8,385.8 35.3,389.1 42.8,381.0" fill="#9a2d58" stroke="#fff" stroke-width="0.5"/>
<polygon points="31.6,390.7 36.4,385.8 42.8,390.1" fill="#a53347" stroke="#fff" stroke-width="0.5"/>
<polygon points="56.7,384.2 66.9,383.2 64.8,397.6 61.6,406.2 54.9,401.9 49.8,394.4 56.2,393.9" fill="#7a2361" stroke="#fff" stroke-width="0.5"/>
<polygon points="54.9,403.5 61.6,406.7 68.3,412.6 68.3,423.3 64.2,423.3 54.9,409.9" fill="#e0672f" stroke="#fff" stroke-width="0.5"/>
<polygon points="70.1,413.7 76.3,418.0 83.0,412.6 89.7,412.6 96.4,419.0 96.4,424.9 91.0,424.9 88.3,420.6 83.0,418.0 77.6,423.3 70.1,423.3" fill="#a53347" stroke="#fff" stroke-width="0.5"/>
<polygon points="93.7,443.1 93.7,424.9 107.1,404.3 120.4,404.3 124.5,400.3 139.2,400.3 139.2,443.1" fill="#c0433c" stroke="#fff" stroke-width="0.5"/>
<polygon points="117.2,412.3 124.5,401.6 139.2,400.3 139.2,416.4 120.4,416.9" fill="#5d1b5f" stroke="#fff" stroke-width="0.5"/>
<polygon points="66.9,341.4 72.3,336.6 85.7,336.6 93.7,345.4 99.0,345.4 103.1,349.4 115.1,349.4 115.1,352.4 95.0,352.4 92.3,348.1 87.0,341.4 72.3,341.4" fill="#d9573a" stroke="#fff" stroke-width="0.5"/>
<polygon points="96.4,361.5 100.4,360.1 103.9,363.4 100.4,366.0 96.9,364.2" fill="#d9573a" stroke="#fff" stroke-width="0.5"/>
<polygon points="112.4,360.1 119.1,360.1 120.4,364.4 115.1,364.4" fill="#7a2361" stroke="#fff" stroke-width="0.5"/>
</g>
<circle cx="66.6" cy="386.6" r="61.8" fill="none" stroke="#4a5558" stroke-width="0.9"/>
<text x="85.7" y="355.7" fill="#d9573a" font-size="9.18" font-weight="bold" text-anchor="middle">46</text>
<text x="58.4" y="374.4" fill="#8c2b4d" font-size="9.18" font-weight="bold" text-anchor="middle">23</text>
<text x="19.5" y="393.7" fill="#7a2361" font-size="9.18" font-weight="bold" text-anchor="middle">25</text>
<text x="38.3" y="401.2" fill="#a53347" font-size="9.18" font-weight="bold" text-anchor="middle">34</text>
<text x="70.9" y="394.5" fill="#5d1b5f" font-size="9.18" font-weight="bold" text-anchor="middle">20</text>
<text x="85.1" y="407.9" fill="#a53347" font-size="9.18" font-weight="bold" text-anchor="middle">36</text>
<text x="54.9" y="424.8" fill="#e8853a" font-size="9.18" font-weight="bold" text-anchor="middle">58</text>
</g>
<g id="overlay">
<text x="70" y="15" font-size="8.3" fill="#9a9a9a" textLength="146" lengthAdjust="spacingAndGlyphs" font-style="italic">Source: Corruption Perceptions Index by</text>
<text x="70" y="27" font-size="8.3" fill="#9a9a9a" textLength="146" lengthAdjust="spacingAndGlyphs" font-style="italic">Transparency International (CC BY 4.0)</text>
<text x="26" y="82.7" font-size="15.6" fill="#111" font-weight="bold" text-anchor="start" letter-spacing="-0.6">2021 Corruption</text>
<text x="26" y="98.3" font-size="15.6" fill="#111" font-weight="bold" text-anchor="start" letter-spacing="-0.6">Perceptions Index</text>
<text x="175" y="119" font-size="10" fill="#111" font-weight="bold" text-anchor="end">0</text>
<text x="175" y="129" font-size="9" fill="#1a1a1a" font-weight="normal" text-anchor="end">Highly</text>
<text x="175" y="139" font-size="9" fill="#1a1a1a" font-weight="normal" text-anchor="end" textLength="32.5" lengthAdjust="spacingAndGlyphs">corrupt</text>
<text x="445" y="119" font-size="10" fill="#111" font-weight="bold" text-anchor="start">100</text>
<text x="445" y="129" font-size="9" fill="#1a1a1a" font-weight="normal" text-anchor="start">Very</text>
<text x="445" y="139" font-size="9" fill="#1a1a1a" font-weight="normal" text-anchor="start">clean</text>
<text x="502" y="38.5" font-size="9.4" fill="#5b2a78" textLength="176" lengthAdjust="spacingAndGlyphs" font-style="italic">The index takes a number of factors into</text>
<text x="502" y="50.5" font-size="9.4" fill="#5b2a78" textLength="177.5" lengthAdjust="spacingAndGlyphs" font-style="italic">account, including nepotism, prosecution</text>
<text x="502" y="62.5" font-size="9.4" fill="#5b2a78" textLength="133.5" lengthAdjust="spacingAndGlyphs" font-style="italic">of corrupt officials, and bribery.</text>
<circle cx="532.8" cy="93.5" r="19.4" fill="#fff" stroke="#8f7fa0" stroke-width="0.75"/>
<circle cx="589.9" cy="93.5" r="19.4" fill="#fff" stroke="#8f7fa0" stroke-width="0.75"/>
<circle cx="647.5" cy="93.5" r="19.4" fill="#fff" stroke="#8f7fa0" stroke-width="0.75"/>
<g transform="translate(505,70) scale(0.09551)" fill="none" stroke="#7b5a95" stroke-width="6.5" stroke-linecap="round" stroke-linejoin="round"><circle cx="185" cy="160" r="31"/><path d="M222,178 C250,140 330,110 375,150 C395,170 400,200 402,230"/><path d="M230,205 C270,170 330,165 380,180"/><path d="M205,235 C250,215 300,215 330,190"/><path d="M215,262 C270,245 300,250 325,215 C350,205 385,210 405,225"/><path d="M235,285 C290,280 330,265 345,240 C370,245 395,250 412,262"/><path d="M402,232 L416,290 L398,305 L400,335 C385,360 350,355 325,340 L345,380"/><path d="M325,340 C310,320 300,310 290,290"/><path d="M190,215 C185,260 215,290 232,305 C225,325 220,340 212,352"/><path d="M250,310 C248,335 242,355 235,378"/></g>
<g transform="translate(562,70) scale(0.09551)" fill="none" stroke="#7b5a95" stroke-width="6.5"><circle cx="215" cy="200" r="70"/><circle cx="212" cy="197" r="44"/><circle cx="385" cy="250" r="70"/><circle cx="382" cy="247" r="44"/><circle cx="232" cy="300" r="15"/><circle cx="246" cy="338" r="15"/><circle cx="266" cy="365" r="15"/><circle cx="294" cy="374" r="15"/><circle cx="320" cy="352" r="15"/><circle cx="337" cy="322" r="15"/></g>
<g transform="translate(620,70) scale(0.09551)" fill="none" stroke="#7b5a95" stroke-width="6.5" stroke-linejoin="round" stroke-linecap="round"><rect x="160" y="160" width="55" height="80"/><path d="M215,178 L245,162 L272,135 L290,150 L345,172 L348,235 L330,245 L250,242 L215,228"/><path d="M278,128 L345,125 L330,168 L300,165 Z"/><path d="M285,245 C240,270 225,320 240,360 C255,395 300,405 340,390 C380,370 385,320 360,280 C350,262 335,250 325,245"/></g>
<text x="648.9" y="103.6" font-size="8.2" fill="#7b5a95" text-anchor="middle">$</text>
<polyline points="156,251 174.8,270 184.5,270" fill="none" stroke="#e8883a" stroke-width="0.7"/>
<text x="186.9" y="275.3" font-size="9.3" fill="#1a1a1a" textLength="89.5" lengthAdjust="spacingAndGlyphs">The <tspan font-weight="bold">U.S.</tspan> has started</text>
<text x="186.9" y="285.6" font-size="9.3" fill="#1a1a1a" textLength="76.6" lengthAdjust="spacingAndGlyphs">to score under 70,</text>
<text x="186.9" y="295.9" font-size="9.3" fill="#1a1a1a" textLength="78.5" lengthAdjust="spacingAndGlyphs">ranking just below</text>
<text x="186.9" y="306.1" font-size="9.3" fill="#1a1a1a" textLength="89.5" lengthAdjust="spacingAndGlyphs">Bhutan and the UAE.</text>
<text x="261.4" y="431.2" font-size="9.3" fill="#1a1a1a" textLength="77.5" lengthAdjust="spacingAndGlyphs">The median <tspan font-weight="bold">global</tspan></text>
<text x="261.4" y="441.7" font-size="9.3" fill="#1a1a1a" textLength="71.3" lengthAdjust="spacingAndGlyphs">corruption score</text>
<text x="261.4" y="452" font-size="9.3" fill="#1a1a1a" textLength="61.5" lengthAdjust="spacingAndGlyphs">was 39 in 2021.</text>
<text x="474.8" y="356.8" font-size="10" fill="#eb9d3c" font-weight="bold" text-anchor="start">70</text>
<circle cx="471.7" cy="353.6" r="0.9" fill="#eb9d3c"/>
<text x="474.8" y="368" font-size="9.3" fill="#1a1a1a" textLength="91.2" lengthAdjust="spacingAndGlyphs"><tspan font-weight="bold">Seychelles</tspan> is Africa's</text>
<text x="474.8" y="378.4" font-size="9.3" fill="#1a1a1a" textLength="90.2" lengthAdjust="spacingAndGlyphs">smallest country and</text>
<text x="474.8" y="388.8" font-size="9.3" fill="#1a1a1a" textLength="100.6" lengthAdjust="spacingAndGlyphs">its least corrupt with a</text>
<text x="474.8" y="399.1" font-size="9.3" fill="#1a1a1a" textLength="95" lengthAdjust="spacingAndGlyphs">score of 70, a ten-year</text>
<text x="474.8" y="409.4" font-size="9.3" fill="#1a1a1a" textLength="87" lengthAdjust="spacingAndGlyphs">improvement of <tspan fill="#3aa84a" font-weight="bold">+18.</tspan></text>
<text x="657.1" y="281.2" font-size="9.3" fill="#1a1a1a" textLength="44.1" lengthAdjust="spacingAndGlyphs"><tspan font-weight="bold">Singapore</tspan></text>
<text x="657.1" y="292" font-size="9.3" fill="#1a1a1a" textLength="67.7" lengthAdjust="spacingAndGlyphs">has the highest</text>
<text x="657.1" y="302.4" font-size="9.3" fill="#1a1a1a" textLength="69.6" lengthAdjust="spacingAndGlyphs">score outside of</text>
<text x="657.1" y="312.6" font-size="9.3" fill="#1a1a1a" textLength="57.3" lengthAdjust="spacingAndGlyphs">Europe at 85.</text>
<text x="571.7" y="468.5" font-size="9.3" fill="#1a1a1a" textLength="95.2" lengthAdjust="spacingAndGlyphs"><tspan font-weight="bold">Denmark</tspan>, <tspan font-weight="bold">Finland</tspan>, and</text>
<text x="571.7" y="478.8" font-size="9.3" fill="#1a1a1a" textLength="78.1" lengthAdjust="spacingAndGlyphs"><tspan font-weight="bold">New Zealand</tspan> have</text>
<text x="571.7" y="489.2" font-size="9.3" fill="#1a1a1a" textLength="88.5" lengthAdjust="spacingAndGlyphs">consistently topped</text>
<text x="571.7" y="499.6" font-size="9.3" fill="#1a1a1a" textLength="98" lengthAdjust="spacingAndGlyphs">the CPI from 2012–2021.</text>
</g>
</svg>
</body></html>
